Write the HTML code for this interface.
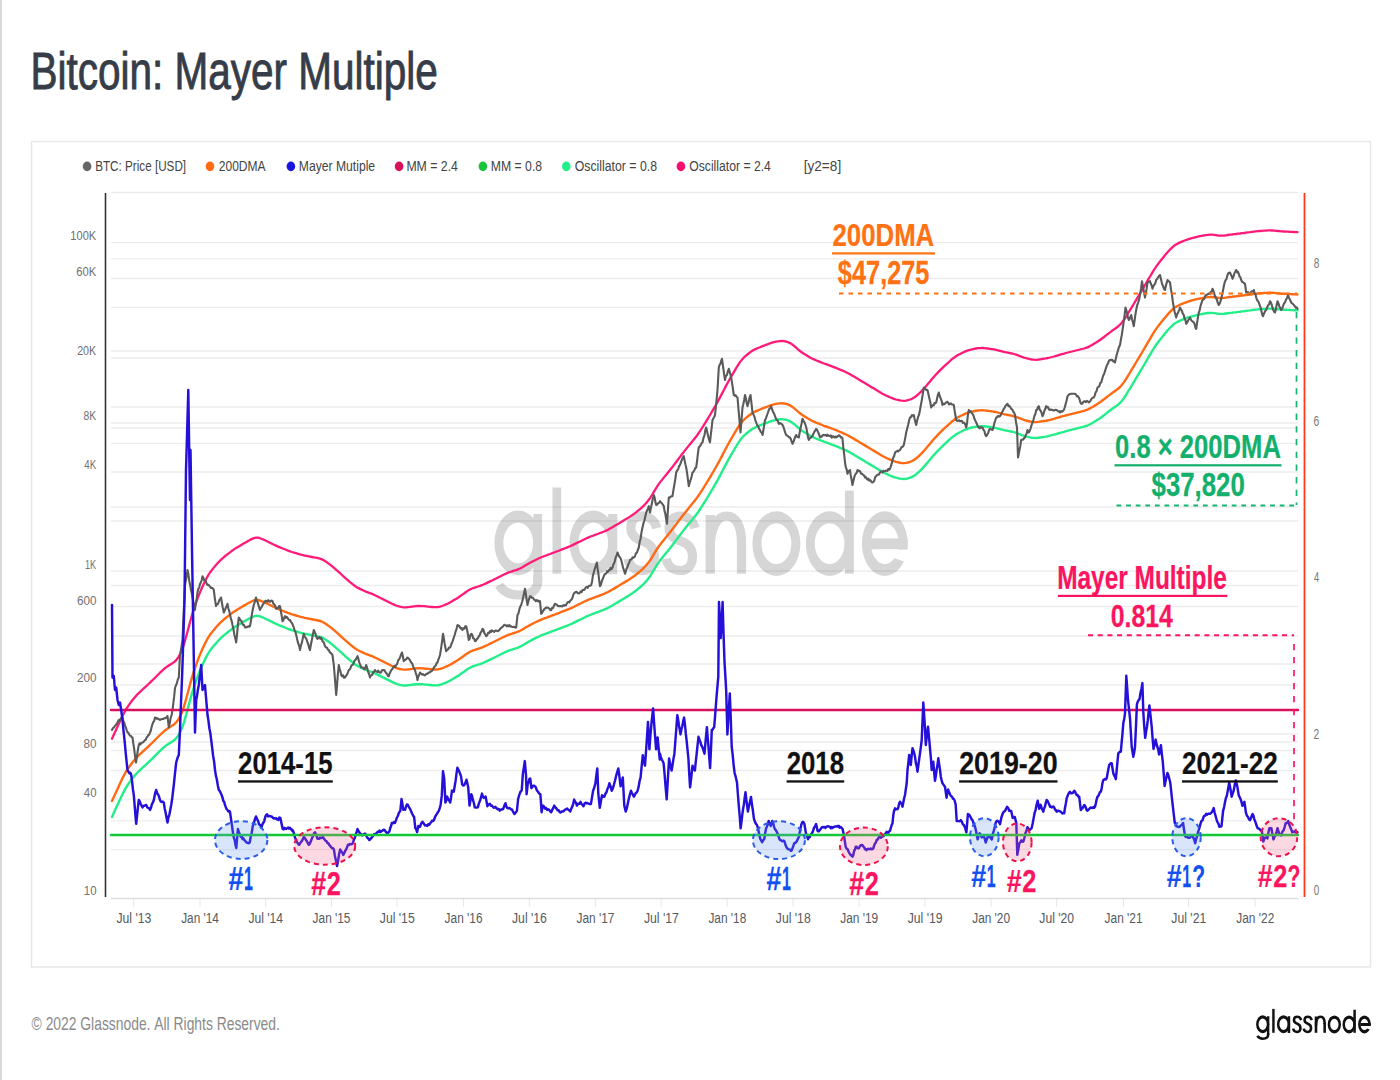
<!DOCTYPE html>
<html><head><meta charset="utf-8"><title>Bitcoin: Mayer Multiple</title>
<style>html,body{margin:0;padding:0;background:#ffffff;overflow:hidden;}svg{display:block;}</style>
</head><body>
<svg width="1400" height="1080" viewBox="0 0 1400 1080" font-family="'Liberation Sans', sans-serif">
<rect x="0" y="0" width="2" height="1080" fill="#d9d9d9"/>
<text transform="translate(30.48 88.80) scale(0.7827 1)" font-size="51.75" fill="#363c48" stroke="#363c48" stroke-width="0.9" style="font-kerning:none">Bitcoin: Mayer Multiple</text>
<rect x="31.5" y="141.5" width="1339" height="825.5" fill="none" stroke="#e8e8e8" stroke-width="1.5"/>
<ellipse cx="87.1" cy="166.4" rx="4.3" ry="4.8" fill="#666666"/>
<text transform="translate(95.14 171.20) scale(0.8129 1)" font-size="14.39" fill="#444444" style="font-kerning:none">BTC: Price [USD]</text>
<ellipse cx="210.0" cy="166.4" rx="4.3" ry="4.8" fill="#ff6a13"/>
<text transform="translate(218.79 171.20) scale(0.8364 1)" font-size="14.39" fill="#444444" style="font-kerning:none">200DMA</text>
<ellipse cx="290.9" cy="166.4" rx="4.3" ry="4.8" fill="#1a14e0"/>
<text transform="translate(298.80 171.20) scale(0.8448 1)" font-size="14.39" fill="#444444" style="font-kerning:none">Mayer Mutiple</text>
<ellipse cx="399.1" cy="166.4" rx="4.3" ry="4.8" fill="#d6125a"/>
<text transform="translate(406.39 171.20) scale(0.8541 1)" font-size="14.39" fill="#444444" style="font-kerning:none">MM = 2.4</text>
<ellipse cx="482.9" cy="166.4" rx="4.3" ry="4.8" fill="#19c43c"/>
<text transform="translate(490.80 171.20) scale(0.8503 1)" font-size="14.39" fill="#444444" style="font-kerning:none">MM = 0.8</text>
<ellipse cx="566.3" cy="166.4" rx="4.3" ry="4.8" fill="#22ee8a"/>
<text transform="translate(574.72 171.20) scale(0.8552 1)" font-size="14.39" fill="#444444" style="font-kerning:none">Oscillator = 0.8</text>
<ellipse cx="680.9" cy="166.4" rx="4.3" ry="4.8" fill="#f5106e"/>
<text transform="translate(689.22 171.20) scale(0.8471 1)" font-size="14.39" fill="#444444" style="font-kerning:none">Oscillator = 2.4</text>
<text transform="translate(803.73 171.20) scale(0.9454 1)" font-size="14.39" fill="#444444" style="font-kerning:none">[y2=8]</text>
<line x1="133.7" y1="898" x2="133.7" y2="907" stroke="#e6e6e6" stroke-width="1"/>
<text transform="translate(116.41 922.90) scale(0.8004 1)" font-size="15.26" fill="#555a60" style="font-kerning:none">Jul '13</text>
<line x1="200.0" y1="898" x2="200.0" y2="907" stroke="#e6e6e6" stroke-width="1"/>
<text transform="translate(181.22 922.90) scale(0.7742 1)" font-size="15.26" fill="#555a60" style="font-kerning:none">Jan '14</text>
<line x1="265.7" y1="898" x2="265.7" y2="907" stroke="#e6e6e6" stroke-width="1"/>
<text transform="translate(248.41 922.90) scale(0.7962 1)" font-size="15.26" fill="#555a60" style="font-kerning:none">Jul '14</text>
<line x1="331.4" y1="898" x2="331.4" y2="907" stroke="#e6e6e6" stroke-width="1"/>
<text transform="translate(312.61 922.90) scale(0.7773 1)" font-size="15.26" fill="#555a60" style="font-kerning:none">Jan '15</text>
<line x1="397.1" y1="898" x2="397.1" y2="907" stroke="#e6e6e6" stroke-width="1"/>
<text transform="translate(379.81 922.90) scale(0.7998 1)" font-size="15.26" fill="#555a60" style="font-kerning:none">Jul '15</text>
<line x1="463.4" y1="898" x2="463.4" y2="907" stroke="#e6e6e6" stroke-width="1"/>
<text transform="translate(444.61 922.90) scale(0.7778 1)" font-size="15.26" fill="#555a60" style="font-kerning:none">Jan '16</text>
<line x1="529.3" y1="898" x2="529.3" y2="907" stroke="#e6e6e6" stroke-width="1"/>
<text transform="translate(512.01 922.90) scale(0.8004 1)" font-size="15.26" fill="#555a60" style="font-kerning:none">Jul '16</text>
<line x1="595.3" y1="898" x2="595.3" y2="907" stroke="#e6e6e6" stroke-width="1"/>
<text transform="translate(576.51 922.90) scale(0.7794 1)" font-size="15.26" fill="#555a60" style="font-kerning:none">Jan '17</text>
<line x1="661.2" y1="898" x2="661.2" y2="907" stroke="#e6e6e6" stroke-width="1"/>
<text transform="translate(643.91 922.90) scale(0.8022 1)" font-size="15.26" fill="#555a60" style="font-kerning:none">Jul '17</text>
<line x1="727.2" y1="898" x2="727.2" y2="907" stroke="#e6e6e6" stroke-width="1"/>
<text transform="translate(708.41 922.90) scale(0.7777 1)" font-size="15.26" fill="#555a60" style="font-kerning:none">Jan '18</text>
<line x1="793.1" y1="898" x2="793.1" y2="907" stroke="#e6e6e6" stroke-width="1"/>
<text transform="translate(775.81 922.90) scale(0.8002 1)" font-size="15.26" fill="#555a60" style="font-kerning:none">Jul '18</text>
<line x1="859.1" y1="898" x2="859.1" y2="907" stroke="#e6e6e6" stroke-width="1"/>
<text transform="translate(840.31 922.90) scale(0.7786 1)" font-size="15.26" fill="#555a60" style="font-kerning:none">Jan '19</text>
<line x1="925.0" y1="898" x2="925.0" y2="907" stroke="#e6e6e6" stroke-width="1"/>
<text transform="translate(907.71 922.90) scale(0.8013 1)" font-size="15.26" fill="#555a60" style="font-kerning:none">Jul '19</text>
<line x1="991.0" y1="898" x2="991.0" y2="907" stroke="#e6e6e6" stroke-width="1"/>
<text transform="translate(972.21 922.90) scale(0.7766 1)" font-size="15.26" fill="#555a60" style="font-kerning:none">Jan '20</text>
<line x1="1056.6" y1="898" x2="1056.6" y2="907" stroke="#e6e6e6" stroke-width="1"/>
<text transform="translate(1039.31 922.90) scale(0.7990 1)" font-size="15.26" fill="#555a60" style="font-kerning:none">Jul '20</text>
<line x1="1123.4" y1="898" x2="1123.4" y2="907" stroke="#e6e6e6" stroke-width="1"/>
<text transform="translate(1104.61 922.90) scale(0.7790 1)" font-size="15.26" fill="#555a60" style="font-kerning:none">Jan '21</text>
<line x1="1188.6" y1="898" x2="1188.6" y2="907" stroke="#e6e6e6" stroke-width="1"/>
<text transform="translate(1171.31 922.90) scale(0.8018 1)" font-size="15.26" fill="#555a60" style="font-kerning:none">Jul '21</text>
<line x1="1255.1" y1="898" x2="1255.1" y2="907" stroke="#e6e6e6" stroke-width="1"/>
<text transform="translate(1236.31 922.90) scale(0.7794 1)" font-size="15.26" fill="#555a60" style="font-kerning:none">Jan '22</text>
<text transform="translate(70.36 239.70) scale(0.8283 1)" font-size="13.37" fill="#707070" style="font-kerning:none">100K</text>
<text transform="translate(76.23 275.80) scale(0.8404 1)" font-size="13.37" fill="#707070" style="font-kerning:none">60K</text>
<text transform="translate(77.16 355.30) scale(0.8010 1)" font-size="13.37" fill="#707070" style="font-kerning:none">20K</text>
<text transform="translate(83.55 419.80) scale(0.7744 1)" font-size="13.37" fill="#707070" style="font-kerning:none">8K</text>
<text transform="translate(84.28 469.20) scale(0.7218 1)" font-size="13.52" fill="#707070" style="font-kerning:none">4K</text>
<text transform="translate(85.00 568.50) scale(0.6923 1)" font-size="13.23" fill="#707070" style="font-kerning:none">1K</text>
<text transform="translate(77.00 605.00) scale(0.8764 1)" font-size="13.37" fill="#707070" style="font-kerning:none">600</text>
<text transform="translate(77.01 682.20) scale(0.8667 1)" font-size="13.52" fill="#707070" style="font-kerning:none">200</text>
<text transform="translate(83.59 747.70) scale(0.8621 1)" font-size="13.52" fill="#707070" style="font-kerning:none">80</text>
<text transform="translate(83.84 796.60) scale(0.8544 1)" font-size="13.37" fill="#707070" style="font-kerning:none">40</text>
<text transform="translate(83.83 895.40) scale(0.8550 1)" font-size="13.37" fill="#707070" style="font-kerning:none">10</text>
<text transform="translate(1313.66 268.30) scale(0.7032 1)" font-size="14.24" fill="#777777" style="font-kerning:none">8</text>
<text transform="translate(1313.58 425.90) scale(0.7151 1)" font-size="14.24" fill="#777777" style="font-kerning:none">6</text>
<text transform="translate(1313.89 582.40) scale(0.6548 1)" font-size="14.24" fill="#777777" style="font-kerning:none">4</text>
<text transform="translate(1313.58 739.40) scale(0.7243 1)" font-size="14.24" fill="#777777" style="font-kerning:none">2</text>
<text transform="translate(1313.72 894.90) scale(0.6902 1)" font-size="14.24" fill="#777777" style="font-kerning:none">0</text>
<defs><clipPath id="ecut"><path clip-rule="evenodd" d="M840 480H930V610H840ZM874 549.4H912V564.6L874 550.7Z"/></clipPath>
<g id="gn"><g fill="currentColor" stroke="none">
<path fill-rule="evenodd" d="M494.4 542.9a23.8 32.4 0 1 0 47.6 0a23.8 32.4 0 1 0 -47.6 0ZM503.3 542.9a14.9 20.4 0 1 0 29.8 0a14.9 20.4 0 1 0 -29.8 0ZM569.5 542.9a23.8 32.4 0 1 0 47.6 0a23.8 32.4 0 1 0 -47.6 0ZM578.4 542.9a14.9 20.4 0 1 0 29.8 0a14.9 20.4 0 1 0 -29.8 0ZM752.4 543.6a24.0 32.4 0 1 0 48.0 0a24.0 32.4 0 1 0 -48.0 0ZM761.4 543.6a15.0 20.4 0 1 0 30.0 0a15.0 20.4 0 1 0 -30.0 0ZM805.8 543.6a23.8 32.4 0 1 0 47.6 0a23.8 32.4 0 1 0 -47.6 0ZM814.7 543.6a14.9 20.4 0 1 0 29.8 0a14.9 20.4 0 1 0 -29.8 0Z"/>
<rect x="533.4" y="514" width="8.7" height="68"/><rect x="552.5" y="487.5" width="8.7" height="86.2"/><rect x="608.2" y="514" width="9.1" height="60.3"/>
<rect x="844.9" y="490.6" width="8.9" height="83.1"/><rect x="705.6" y="515" width="9.3" height="58.7"/><rect x="736.9" y="538" width="9.2" height="35.7"/>
<g clip-path="url(#ecut)"><path fill-rule="evenodd" d="M861.9 543.6a22.9 32.4 0 1 0 45.8 0a22.9 32.4 0 1 0 -45.8 0ZM870.9 543.6a13.9 20.4 0 1 0 27.8 0a13.9 20.4 0 1 0 -27.8 0Z"/><rect x="870" y="538.4" width="37.6" height="11"/></g>
</g>
<g fill="none" stroke="currentColor" stroke-width="9.2">
<path d="M537.75 575V581C537.75 591 530 595 519 595C510 595 503 592 499 585"/>
<path d="M710.25 548C710.25 528 717 516 726.5 516C736 516 741.5 526 741.5 542"/>
<path d="M656.8 528.2C654.8 520.2 648.8 516.0 642.3 516.0C635.3 516.0 630.8 520.7 630.8 527.7C630.8 536.2 636.8 539.2 642.8 541.2C649.8 543.7 654.3 547.7 654.3 556.7C654.3 565.7 648.8 570.5 642.3 570.5C634.8 570.5 629.3 566.2 628.0 558.7"/><path d="M695.0 528.2C693.0 520.2 687.0 516.0 680.5 516.0C673.5 516.0 669.0 520.7 669.0 527.7C669.0 536.2 675.0 539.2 681.0 541.2C688.0 543.7 692.5 547.7 692.5 556.7C692.5 565.7 687.0 570.5 680.5 570.5C673.0 570.5 667.5 566.2 666.2 558.7"/>
</g></g></defs>
<use href="#gn" style="color:#d6d6d6"/>
<line x1="111" y1="192.5" x2="1298" y2="192.5" stroke="rgba(0,0,0,0.075)" stroke-width="1.3"/>
<line x1="111" y1="242.6" x2="1298" y2="242.6" stroke="rgba(0,0,0,0.075)" stroke-width="1.3"/>
<line x1="111" y1="258.8" x2="1298" y2="258.8" stroke="rgba(0,0,0,0.075)" stroke-width="1.3"/>
<line x1="111" y1="278.5" x2="1298" y2="278.5" stroke="rgba(0,0,0,0.075)" stroke-width="1.3"/>
<line x1="111" y1="307.4" x2="1298" y2="307.4" stroke="rgba(0,0,0,0.075)" stroke-width="1.3"/>
<line x1="111" y1="351.0" x2="1298" y2="351.0" stroke="rgba(0,0,0,0.075)" stroke-width="1.3"/>
<line x1="111" y1="358.0" x2="1298" y2="358.0" stroke="rgba(0,0,0,0.075)" stroke-width="1.3"/>
<line x1="111" y1="407.0" x2="1298" y2="407.0" stroke="rgba(0,0,0,0.075)" stroke-width="1.3"/>
<line x1="111" y1="423.0" x2="1298" y2="423.0" stroke="rgba(0,0,0,0.075)" stroke-width="1.3"/>
<line x1="111" y1="428.0" x2="1298" y2="428.0" stroke="rgba(0,0,0,0.075)" stroke-width="1.3"/>
<line x1="111" y1="443.3" x2="1298" y2="443.3" stroke="rgba(0,0,0,0.075)" stroke-width="1.3"/>
<line x1="111" y1="472.0" x2="1298" y2="472.0" stroke="rgba(0,0,0,0.075)" stroke-width="1.3"/>
<line x1="111" y1="507.0" x2="1298" y2="507.0" stroke="rgba(0,0,0,0.075)" stroke-width="1.3"/>
<line x1="111" y1="521.0" x2="1298" y2="521.0" stroke="rgba(0,0,0,0.075)" stroke-width="1.3"/>
<line x1="111" y1="571.0" x2="1298" y2="571.0" stroke="rgba(0,0,0,0.075)" stroke-width="1.3"/>
<line x1="111" y1="585.5" x2="1298" y2="585.5" stroke="rgba(0,0,0,0.075)" stroke-width="1.3"/>
<line x1="111" y1="606.5" x2="1298" y2="606.5" stroke="rgba(0,0,0,0.075)" stroke-width="1.3"/>
<line x1="111" y1="636.0" x2="1298" y2="636.0" stroke="rgba(0,0,0,0.075)" stroke-width="1.3"/>
<line x1="111" y1="664.0" x2="1298" y2="664.0" stroke="rgba(0,0,0,0.075)" stroke-width="1.3"/>
<line x1="111" y1="685.0" x2="1298" y2="685.0" stroke="rgba(0,0,0,0.075)" stroke-width="1.3"/>
<line x1="111" y1="734.0" x2="1298" y2="734.0" stroke="rgba(0,0,0,0.075)" stroke-width="1.3"/>
<line x1="111" y1="742.0" x2="1298" y2="742.0" stroke="rgba(0,0,0,0.075)" stroke-width="1.3"/>
<line x1="111" y1="750.5" x2="1298" y2="750.5" stroke="rgba(0,0,0,0.075)" stroke-width="1.3"/>
<line x1="111" y1="770.5" x2="1298" y2="770.5" stroke="rgba(0,0,0,0.075)" stroke-width="1.3"/>
<line x1="111" y1="799.2" x2="1298" y2="799.2" stroke="rgba(0,0,0,0.075)" stroke-width="1.3"/>
<line x1="111" y1="820.8" x2="1298" y2="820.8" stroke="rgba(0,0,0,0.075)" stroke-width="1.3"/>
<line x1="111" y1="849.6" x2="1298" y2="849.6" stroke="rgba(0,0,0,0.075)" stroke-width="1.3"/>
<line x1="105.5" y1="193" x2="105.5" y2="897" stroke="#333333" stroke-width="1.6"/>
<line x1="111" y1="898.5" x2="1298.5" y2="898.5" stroke="#dddddd" stroke-width="1.5"/>
<line x1="1304.5" y1="193" x2="1304.5" y2="897" stroke="#ff3b1a" stroke-width="1.8"/>
<g fill="none" stroke-linejoin="round" stroke-linecap="round">
<path d="M112.0 738.7L114.0 734.3L116.0 729.9L118.0 725.6L120.0 721.2L122.0 717.0L124.0 713.0L126.0 709.4L128.0 706.3L130.0 703.4L132.0 700.7L134.0 698.2L136.0 695.9L138.0 693.8L140.0 691.9L142.0 690.0L144.0 688.2L146.0 686.4L148.0 684.5L150.0 682.6L152.0 680.7L154.0 678.7L156.0 676.7L158.0 674.7L160.0 672.7L162.0 670.8L164.0 669.0L166.0 667.4L168.0 666.0L170.0 664.7L172.0 663.5L174.0 662.1L176.0 660.3L178.0 657.8L180.0 654.4L182.0 649.9L184.0 644.1L186.0 637.2L188.0 629.7L190.0 622.2L192.0 615.1L194.0 608.7L196.0 602.8L198.0 597.4L200.0 592.3L202.0 587.7L204.0 583.3L206.0 579.2L208.0 575.6L210.0 572.5L212.0 569.9L214.0 567.4L216.0 565.0L218.0 562.8L220.0 560.7L222.0 558.8L224.0 557.0L226.0 555.4L228.0 553.8L230.0 552.3L232.0 550.8L234.0 549.4L236.0 548.1L238.0 546.9L240.0 545.7L242.0 544.5L244.0 543.3L246.0 542.2L248.0 541.0L250.0 539.9L252.0 538.9L254.0 538.1L256.0 537.6L258.0 537.7L260.0 538.2L262.0 539.0L264.0 539.8L266.0 540.8L268.0 541.7L270.0 542.7L272.0 543.7L274.0 544.7L276.0 545.6L278.0 546.6L280.0 547.4L282.0 548.2L284.0 549.0L286.0 549.8L288.0 550.6L290.0 551.3L292.0 552.0L294.0 552.6L296.0 553.2L298.0 553.8L300.0 554.4L302.0 554.9L304.0 555.4L306.0 555.8L308.0 556.2L310.0 556.6L312.0 557.0L314.0 557.4L316.0 557.7L318.0 558.2L320.0 558.7L322.0 559.4L324.0 560.4L326.0 561.7L328.0 563.1L330.0 564.6L332.0 566.2L334.0 567.9L336.0 569.6L338.0 571.4L340.0 573.2L342.0 575.0L344.0 576.8L346.0 578.6L348.0 580.3L350.0 582.1L352.0 583.7L354.0 585.3L356.0 586.7L358.0 587.9L360.0 588.9L362.0 589.9L364.0 590.8L366.0 591.7L368.0 592.4L370.0 593.2L372.0 593.9L374.0 594.8L376.0 595.7L378.0 596.7L380.0 597.7L382.0 598.7L384.0 599.7L386.0 600.7L388.0 601.7L390.0 602.7L392.0 603.7L394.0 604.6L396.0 605.5L398.0 606.2L400.0 606.7L402.0 607.1L404.0 607.3L406.0 607.3L408.0 607.1L410.0 606.9L412.0 606.6L414.0 606.3L416.0 606.1L418.0 606.0L420.0 606.0L422.0 606.1L424.0 606.2L426.0 606.4L428.0 606.6L430.0 606.8L432.0 607.0L434.0 607.2L436.0 607.2L438.0 607.0L440.0 606.6L442.0 606.0L444.0 605.2L446.0 604.4L448.0 603.5L450.0 602.4L452.0 601.3L454.0 600.1L456.0 598.9L458.0 597.7L460.0 596.3L462.0 594.9L464.0 593.5L466.0 592.0L468.0 590.6L470.0 589.5L472.0 588.5L474.0 587.8L476.0 587.2L478.0 586.5L480.0 585.9L482.0 585.2L484.0 584.3L486.0 583.4L488.0 582.4L490.0 581.4L492.0 580.5L494.0 579.5L496.0 578.5L498.0 577.5L500.0 576.5L502.0 575.5L504.0 574.5L506.0 573.6L508.0 572.7L510.0 572.0L512.0 571.4L514.0 570.7L516.0 570.1L518.0 569.4L520.0 568.5L522.0 567.5L524.0 566.3L526.0 565.0L528.0 563.9L530.0 562.8L532.0 561.7L534.0 560.7L536.0 559.7L538.0 558.8L540.0 557.8L542.0 557.0L544.0 556.2L546.0 555.5L548.0 554.7L550.0 554.0L552.0 553.2L554.0 552.5L556.0 551.7L558.0 551.0L560.0 550.2L562.0 549.4L564.0 548.7L566.0 547.9L568.0 547.1L570.0 546.3L572.0 545.4L574.0 544.4L576.0 543.4L578.0 542.4L580.0 541.5L582.0 540.5L584.0 539.5L586.0 538.5L588.0 537.6L590.0 536.8L592.0 536.0L594.0 535.3L596.0 534.5L598.0 533.8L600.0 533.0L602.0 532.3L604.0 531.5L606.0 530.6L608.0 529.7L610.0 528.6L612.0 527.5L614.0 526.3L616.0 525.1L618.0 523.9L620.0 522.7L622.0 521.5L624.0 520.3L626.0 519.1L628.0 517.9L630.0 516.6L632.0 515.3L634.0 513.9L636.0 512.3L638.0 510.7L640.0 509.1L642.0 507.3L644.0 505.4L646.0 503.2L648.0 500.8L650.0 498.1L652.0 495.0L654.0 491.6L656.0 488.3L658.0 485.2L660.0 482.4L662.0 479.9L664.0 477.4L666.0 475.0L668.0 472.5L670.0 470.0L672.0 467.5L674.0 464.9L676.0 462.2L678.0 459.5L680.0 456.9L682.0 454.2L684.0 451.6L686.0 449.1L688.0 446.6L690.0 444.2L692.0 441.8L694.0 439.3L696.0 436.8L698.0 434.0L700.0 431.1L702.0 428.0L704.0 424.8L706.0 421.6L708.0 418.3L710.0 415.0L712.0 411.6L714.0 408.2L716.0 404.7L718.0 401.1L720.0 397.4L722.0 393.6L724.0 389.7L726.0 385.9L728.0 382.2L730.0 378.6L732.0 375.2L734.0 371.8L736.0 368.4L738.0 365.2L740.0 362.1L742.0 359.6L744.0 357.4L746.0 355.6L748.0 354.0L750.0 352.4L752.0 351.0L754.0 349.8L756.0 348.9L758.0 348.0L760.0 347.2L762.0 346.4L764.0 345.6L766.0 344.8L768.0 344.1L770.0 343.3L772.0 342.6L774.0 342.1L776.0 341.6L778.0 341.3L780.0 341.1L782.0 341.0L784.0 341.2L786.0 341.5L788.0 342.2L790.0 343.1L792.0 344.3L794.0 345.8L796.0 347.5L798.0 349.3L800.0 351.0L802.0 352.5L804.0 353.8L806.0 355.0L808.0 356.2L810.0 357.4L812.0 358.5L814.0 359.4L816.0 360.3L818.0 361.1L820.0 361.9L822.0 362.7L824.0 363.5L826.0 364.2L828.0 364.9L830.0 365.6L832.0 366.4L834.0 367.1L836.0 367.9L838.0 368.7L840.0 369.6L842.0 370.4L844.0 371.3L846.0 372.2L848.0 373.2L850.0 374.3L852.0 375.4L854.0 376.6L856.0 377.8L858.0 379.0L860.0 380.2L862.0 381.4L864.0 382.6L866.0 383.8L868.0 385.0L870.0 386.2L872.0 387.4L874.0 388.6L876.0 389.8L878.0 391.0L880.0 392.2L882.0 393.4L884.0 394.5L886.0 395.5L888.0 396.4L890.0 397.3L892.0 398.1L894.0 398.9L896.0 399.5L898.0 400.0L900.0 400.4L902.0 400.7L904.0 400.8L906.0 400.6L908.0 400.2L910.0 399.5L912.0 398.7L914.0 397.6L916.0 396.2L918.0 394.5L920.0 392.7L922.0 390.6L924.0 388.5L926.0 386.2L928.0 383.8L930.0 381.4L932.0 379.0L934.0 376.7L936.0 374.5L938.0 372.4L940.0 370.4L942.0 368.4L944.0 366.4L946.0 364.6L948.0 362.8L950.0 361.0L952.0 359.2L954.0 357.7L956.0 356.3L958.0 355.0L960.0 354.0L962.0 353.0L964.0 352.0L966.0 351.1L968.0 350.4L970.0 349.8L972.0 349.3L974.0 348.9L976.0 348.5L978.0 348.2L980.0 348.1L982.0 348.0L984.0 348.1L986.0 348.3L988.0 348.5L990.0 348.8L992.0 349.1L994.0 349.4L996.0 349.9L998.0 350.4L1000.0 350.9L1002.0 351.4L1004.0 351.9L1006.0 352.3L1008.0 352.7L1010.0 353.1L1012.0 353.5L1014.0 354.0L1016.0 354.6L1018.0 355.3L1020.0 356.1L1022.0 356.9L1024.0 357.6L1026.0 358.2L1028.0 358.7L1030.0 359.2L1032.0 359.5L1034.0 359.7L1036.0 359.8L1038.0 359.6L1040.0 359.3L1042.0 359.0L1044.0 358.7L1046.0 358.4L1048.0 358.0L1050.0 357.5L1052.0 357.0L1054.0 356.5L1056.0 355.9L1058.0 355.3L1060.0 354.7L1062.0 354.1L1064.0 353.6L1066.0 353.0L1068.0 352.5L1070.0 352.0L1072.0 351.5L1074.0 351.0L1076.0 350.5L1078.0 350.0L1080.0 349.5L1082.0 349.0L1084.0 348.5L1086.0 347.8L1088.0 347.1L1090.0 346.1L1092.0 345.0L1094.0 343.8L1096.0 342.6L1098.0 341.3L1100.0 340.0L1102.0 338.5L1104.0 337.0L1106.0 335.4L1108.0 333.8L1110.0 332.3L1112.0 330.8L1114.0 329.4L1116.0 328.0L1118.0 326.5L1120.0 324.7L1122.0 322.5L1124.0 319.8L1126.0 316.8L1128.0 313.5L1130.0 310.2L1132.0 306.9L1134.0 303.5L1136.0 300.2L1138.0 296.9L1140.0 293.5L1142.0 290.2L1144.0 286.8L1146.0 283.4L1148.0 279.9L1150.0 276.5L1152.0 273.1L1154.0 269.8L1156.0 266.8L1158.0 264.1L1160.0 261.5L1162.0 259.0L1164.0 256.5L1166.0 254.1L1168.0 251.8L1170.0 249.6L1172.0 247.6L1174.0 245.8L1176.0 244.5L1178.0 243.4L1180.0 242.4L1182.0 241.6L1184.0 240.8L1186.0 240.0L1188.0 239.3L1190.0 238.7L1192.0 238.1L1194.0 237.6L1196.0 237.1L1198.0 236.6L1200.0 236.2L1202.0 235.8L1204.0 235.4L1206.0 235.1L1208.0 234.8L1210.0 234.7L1212.0 234.7L1214.0 234.9L1216.0 235.2L1218.0 235.5L1220.0 235.7L1222.0 235.7L1224.0 235.6L1226.0 235.3L1228.0 235.0L1230.0 234.7L1232.0 234.5L1234.0 234.2L1236.0 234.0L1238.0 233.7L1240.0 233.5L1242.0 233.2L1244.0 233.0L1246.0 232.7L1248.0 232.4L1250.0 232.2L1252.0 231.9L1254.0 231.6L1256.0 231.4L1258.0 231.2L1260.0 231.0L1262.0 230.9L1264.0 230.7L1266.0 230.6L1268.0 230.4L1270.0 230.4L1272.0 230.5L1274.0 230.6L1276.0 230.8L1278.0 231.0L1280.0 231.2L1282.0 231.4L1284.0 231.5L1286.0 231.6L1288.0 231.7L1290.0 231.8L1292.0 231.9L1294.0 232.0L1296.0 232.1L1297.5 232.2" stroke="#ff1a7a" stroke-width="2.3"/>
<path d="M112.0 816.9L114.0 812.5L116.0 808.1L118.0 803.8L120.0 799.4L122.0 795.2L124.0 791.2L126.0 787.6L128.0 784.5L130.0 781.6L132.0 778.9L134.0 776.4L136.0 774.1L138.0 772.0L140.0 770.1L142.0 768.2L144.0 766.4L146.0 764.6L148.0 762.7L150.0 760.8L152.0 758.9L154.0 756.9L156.0 754.9L158.0 752.9L160.0 750.9L162.0 749.0L164.0 747.2L166.0 745.6L168.0 744.2L170.0 742.9L172.0 741.7L174.0 740.3L176.0 738.5L178.0 736.0L180.0 732.6L182.0 728.1L184.0 722.3L186.0 715.4L188.0 707.9L190.0 700.4L192.0 693.3L194.0 686.9L196.0 681.0L198.0 675.6L200.0 670.5L202.0 665.9L204.0 661.5L206.0 657.4L208.0 653.8L210.0 650.7L212.0 648.1L214.0 645.6L216.0 643.2L218.0 641.0L220.0 638.9L222.0 637.0L224.0 635.2L226.0 633.6L228.0 632.0L230.0 630.5L232.0 629.0L234.0 627.6L236.0 626.3L238.0 625.1L240.0 623.9L242.0 622.7L244.0 621.5L246.0 620.4L248.0 619.2L250.0 618.1L252.0 617.1L254.0 616.3L256.0 615.8L258.0 615.9L260.0 616.4L262.0 617.2L264.0 618.0L266.0 619.0L268.0 619.9L270.0 620.9L272.0 621.9L274.0 622.9L276.0 623.8L278.0 624.8L280.0 625.6L282.0 626.4L284.0 627.2L286.0 628.0L288.0 628.8L290.0 629.5L292.0 630.2L294.0 630.8L296.0 631.4L298.0 632.0L300.0 632.6L302.0 633.1L304.0 633.6L306.0 634.0L308.0 634.4L310.0 634.8L312.0 635.2L314.0 635.6L316.0 635.9L318.0 636.4L320.0 636.9L322.0 637.6L324.0 638.6L326.0 639.9L328.0 641.3L330.0 642.8L332.0 644.4L334.0 646.1L336.0 647.8L338.0 649.6L340.0 651.4L342.0 653.2L344.0 655.0L346.0 656.8L348.0 658.5L350.0 660.3L352.0 661.9L354.0 663.5L356.0 664.9L358.0 666.1L360.0 667.1L362.0 668.1L364.0 669.0L366.0 669.9L368.0 670.6L370.0 671.4L372.0 672.1L374.0 673.0L376.0 673.9L378.0 674.9L380.0 675.9L382.0 676.9L384.0 677.9L386.0 678.9L388.0 679.9L390.0 680.9L392.0 681.9L394.0 682.8L396.0 683.7L398.0 684.4L400.0 684.9L402.0 685.3L404.0 685.5L406.0 685.5L408.0 685.3L410.0 685.1L412.0 684.8L414.0 684.5L416.0 684.3L418.0 684.2L420.0 684.2L422.0 684.3L424.0 684.4L426.0 684.6L428.0 684.8L430.0 685.0L432.0 685.2L434.0 685.4L436.0 685.4L438.0 685.2L440.0 684.8L442.0 684.2L444.0 683.4L446.0 682.6L448.0 681.7L450.0 680.6L452.0 679.5L454.0 678.3L456.0 677.1L458.0 675.9L460.0 674.5L462.0 673.1L464.0 671.7L466.0 670.2L468.0 668.8L470.0 667.7L472.0 666.7L474.0 666.0L476.0 665.4L478.0 664.7L480.0 664.1L482.0 663.4L484.0 662.5L486.0 661.6L488.0 660.6L490.0 659.6L492.0 658.7L494.0 657.7L496.0 656.7L498.0 655.7L500.0 654.7L502.0 653.7L504.0 652.7L506.0 651.8L508.0 650.9L510.0 650.2L512.0 649.6L514.0 648.9L516.0 648.3L518.0 647.6L520.0 646.7L522.0 645.7L524.0 644.5L526.0 643.2L528.0 642.1L530.0 641.0L532.0 639.9L534.0 638.9L536.0 637.9L538.0 637.0L540.0 636.0L542.0 635.2L544.0 634.4L546.0 633.7L548.0 632.9L550.0 632.2L552.0 631.4L554.0 630.7L556.0 629.9L558.0 629.2L560.0 628.4L562.0 627.6L564.0 626.9L566.0 626.1L568.0 625.3L570.0 624.5L572.0 623.6L574.0 622.6L576.0 621.6L578.0 620.6L580.0 619.7L582.0 618.7L584.0 617.7L586.0 616.7L588.0 615.8L590.0 615.0L592.0 614.2L594.0 613.5L596.0 612.7L598.0 612.0L600.0 611.2L602.0 610.5L604.0 609.7L606.0 608.8L608.0 607.9L610.0 606.8L612.0 605.7L614.0 604.5L616.0 603.3L618.0 602.1L620.0 600.9L622.0 599.7L624.0 598.5L626.0 597.3L628.0 596.1L630.0 594.8L632.0 593.5L634.0 592.1L636.0 590.5L638.0 588.9L640.0 587.3L642.0 585.5L644.0 583.6L646.0 581.4L648.0 579.0L650.0 576.3L652.0 573.2L654.0 569.8L656.0 566.5L658.0 563.4L660.0 560.6L662.0 558.1L664.0 555.6L666.0 553.2L668.0 550.7L670.0 548.2L672.0 545.7L674.0 543.1L676.0 540.4L678.0 537.7L680.0 535.1L682.0 532.4L684.0 529.8L686.0 527.3L688.0 524.8L690.0 522.4L692.0 520.0L694.0 517.5L696.0 515.0L698.0 512.2L700.0 509.3L702.0 506.2L704.0 503.0L706.0 499.8L708.0 496.5L710.0 493.2L712.0 489.8L714.0 486.4L716.0 482.9L718.0 479.3L720.0 475.6L722.0 471.8L724.0 467.9L726.0 464.1L728.0 460.4L730.0 456.8L732.0 453.4L734.0 450.0L736.0 446.6L738.0 443.4L740.0 440.3L742.0 437.8L744.0 435.6L746.0 433.8L748.0 432.2L750.0 430.6L752.0 429.2L754.0 428.0L756.0 427.1L758.0 426.2L760.0 425.4L762.0 424.6L764.0 423.8L766.0 423.0L768.0 422.3L770.0 421.5L772.0 420.8L774.0 420.3L776.0 419.8L778.0 419.5L780.0 419.3L782.0 419.2L784.0 419.4L786.0 419.7L788.0 420.4L790.0 421.3L792.0 422.5L794.0 424.0L796.0 425.7L798.0 427.5L800.0 429.2L802.0 430.7L804.0 432.0L806.0 433.2L808.0 434.4L810.0 435.6L812.0 436.7L814.0 437.6L816.0 438.5L818.0 439.3L820.0 440.1L822.0 440.9L824.0 441.7L826.0 442.4L828.0 443.1L830.0 443.8L832.0 444.6L834.0 445.3L836.0 446.1L838.0 446.9L840.0 447.8L842.0 448.6L844.0 449.5L846.0 450.4L848.0 451.4L850.0 452.5L852.0 453.6L854.0 454.8L856.0 456.0L858.0 457.2L860.0 458.4L862.0 459.6L864.0 460.8L866.0 462.0L868.0 463.2L870.0 464.4L872.0 465.6L874.0 466.8L876.0 468.0L878.0 469.2L880.0 470.4L882.0 471.6L884.0 472.7L886.0 473.7L888.0 474.6L890.0 475.5L892.0 476.3L894.0 477.1L896.0 477.7L898.0 478.2L900.0 478.6L902.0 478.9L904.0 479.0L906.0 478.8L908.0 478.4L910.0 477.7L912.0 476.9L914.0 475.8L916.0 474.4L918.0 472.7L920.0 470.9L922.0 468.8L924.0 466.7L926.0 464.4L928.0 462.0L930.0 459.6L932.0 457.2L934.0 454.9L936.0 452.7L938.0 450.6L940.0 448.6L942.0 446.6L944.0 444.6L946.0 442.8L948.0 441.0L950.0 439.2L952.0 437.4L954.0 435.9L956.0 434.5L958.0 433.2L960.0 432.2L962.0 431.2L964.0 430.2L966.0 429.3L968.0 428.6L970.0 428.0L972.0 427.5L974.0 427.1L976.0 426.7L978.0 426.4L980.0 426.3L982.0 426.2L984.0 426.3L986.0 426.5L988.0 426.7L990.0 427.0L992.0 427.3L994.0 427.6L996.0 428.1L998.0 428.6L1000.0 429.1L1002.0 429.6L1004.0 430.1L1006.0 430.5L1008.0 430.9L1010.0 431.3L1012.0 431.7L1014.0 432.2L1016.0 432.8L1018.0 433.5L1020.0 434.3L1022.0 435.1L1024.0 435.8L1026.0 436.4L1028.0 436.9L1030.0 437.4L1032.0 437.7L1034.0 437.9L1036.0 438.0L1038.0 437.8L1040.0 437.5L1042.0 437.2L1044.0 436.9L1046.0 436.6L1048.0 436.2L1050.0 435.7L1052.0 435.2L1054.0 434.7L1056.0 434.1L1058.0 433.5L1060.0 432.9L1062.0 432.3L1064.0 431.8L1066.0 431.2L1068.0 430.7L1070.0 430.2L1072.0 429.7L1074.0 429.2L1076.0 428.7L1078.0 428.2L1080.0 427.7L1082.0 427.2L1084.0 426.7L1086.0 426.0L1088.0 425.3L1090.0 424.3L1092.0 423.2L1094.0 422.0L1096.0 420.8L1098.0 419.5L1100.0 418.2L1102.0 416.7L1104.0 415.2L1106.0 413.6L1108.0 412.0L1110.0 410.5L1112.0 409.0L1114.0 407.6L1116.0 406.2L1118.0 404.7L1120.0 402.9L1122.0 400.7L1124.0 398.0L1126.0 395.0L1128.0 391.7L1130.0 388.4L1132.0 385.1L1134.0 381.7L1136.0 378.4L1138.0 375.1L1140.0 371.7L1142.0 368.4L1144.0 365.0L1146.0 361.6L1148.0 358.1L1150.0 354.7L1152.0 351.3L1154.0 348.0L1156.0 345.0L1158.0 342.3L1160.0 339.7L1162.0 337.2L1164.0 334.7L1166.0 332.3L1168.0 330.0L1170.0 327.8L1172.0 325.8L1174.0 324.0L1176.0 322.7L1178.0 321.6L1180.0 320.6L1182.0 319.8L1184.0 319.0L1186.0 318.2L1188.0 317.5L1190.0 316.9L1192.0 316.3L1194.0 315.8L1196.0 315.3L1198.0 314.8L1200.0 314.4L1202.0 314.0L1204.0 313.6L1206.0 313.3L1208.0 313.0L1210.0 312.9L1212.0 312.9L1214.0 313.1L1216.0 313.4L1218.0 313.7L1220.0 313.9L1222.0 313.9L1224.0 313.8L1226.0 313.5L1228.0 313.2L1230.0 312.9L1232.0 312.7L1234.0 312.4L1236.0 312.2L1238.0 311.9L1240.0 311.7L1242.0 311.4L1244.0 311.2L1246.0 310.9L1248.0 310.6L1250.0 310.4L1252.0 310.1L1254.0 309.8L1256.0 309.6L1258.0 309.4L1260.0 309.2L1262.0 309.1L1264.0 308.9L1266.0 308.8L1268.0 308.6L1270.0 308.6L1272.0 308.7L1274.0 308.8L1276.0 309.0L1278.0 309.2L1280.0 309.4L1282.0 309.6L1284.0 309.7L1286.0 309.8L1288.0 309.9L1290.0 310.0L1292.0 310.1L1294.0 310.2L1296.0 310.3L1297.5 310.4" stroke="#22ee8a" stroke-width="2.4"/>
<path d="M112.0 801.0L114.0 796.6L116.0 792.2L118.0 787.9L120.0 783.5L122.0 779.3L124.0 775.3L126.0 771.7L128.0 768.6L130.0 765.7L132.0 763.0L134.0 760.5L136.0 758.2L138.0 756.1L140.0 754.2L142.0 752.3L144.0 750.5L146.0 748.7L148.0 746.8L150.0 744.9L152.0 743.0L154.0 741.0L156.0 739.0L158.0 737.0L160.0 735.0L162.0 733.1L164.0 731.3L166.0 729.7L168.0 728.3L170.0 727.0L172.0 725.8L174.0 724.4L176.0 722.6L178.0 720.1L180.0 716.7L182.0 712.2L184.0 706.4L186.0 699.5L188.0 692.0L190.0 684.5L192.0 677.4L194.0 671.0L196.0 665.1L198.0 659.7L200.0 654.6L202.0 650.0L204.0 645.6L206.0 641.5L208.0 637.9L210.0 634.8L212.0 632.2L214.0 629.7L216.0 627.3L218.0 625.1L220.0 623.0L222.0 621.1L224.0 619.3L226.0 617.7L228.0 616.1L230.0 614.6L232.0 613.1L234.0 611.7L236.0 610.4L238.0 609.2L240.0 608.0L242.0 606.8L244.0 605.6L246.0 604.5L248.0 603.3L250.0 602.2L252.0 601.2L254.0 600.4L256.0 599.9L258.0 600.0L260.0 600.5L262.0 601.3L264.0 602.1L266.0 603.1L268.0 604.0L270.0 605.0L272.0 606.0L274.0 607.0L276.0 607.9L278.0 608.9L280.0 609.7L282.0 610.5L284.0 611.3L286.0 612.1L288.0 612.9L290.0 613.6L292.0 614.3L294.0 614.9L296.0 615.5L298.0 616.1L300.0 616.7L302.0 617.2L304.0 617.7L306.0 618.1L308.0 618.5L310.0 618.9L312.0 619.3L314.0 619.7L316.0 620.0L318.0 620.5L320.0 621.0L322.0 621.7L324.0 622.7L326.0 624.0L328.0 625.4L330.0 626.9L332.0 628.5L334.0 630.2L336.0 631.9L338.0 633.7L340.0 635.5L342.0 637.3L344.0 639.1L346.0 640.9L348.0 642.6L350.0 644.4L352.0 646.0L354.0 647.6L356.0 649.0L358.0 650.2L360.0 651.2L362.0 652.2L364.0 653.1L366.0 654.0L368.0 654.7L370.0 655.5L372.0 656.2L374.0 657.1L376.0 658.0L378.0 659.0L380.0 660.0L382.0 661.0L384.0 662.0L386.0 663.0L388.0 664.0L390.0 665.0L392.0 666.0L394.0 666.9L396.0 667.8L398.0 668.5L400.0 669.0L402.0 669.4L404.0 669.6L406.0 669.6L408.0 669.4L410.0 669.2L412.0 668.9L414.0 668.6L416.0 668.4L418.0 668.3L420.0 668.3L422.0 668.4L424.0 668.5L426.0 668.7L428.0 668.9L430.0 669.1L432.0 669.3L434.0 669.5L436.0 669.5L438.0 669.3L440.0 668.9L442.0 668.3L444.0 667.5L446.0 666.7L448.0 665.8L450.0 664.7L452.0 663.6L454.0 662.4L456.0 661.2L458.0 660.0L460.0 658.6L462.0 657.2L464.0 655.8L466.0 654.3L468.0 652.9L470.0 651.8L472.0 650.8L474.0 650.1L476.0 649.5L478.0 648.8L480.0 648.2L482.0 647.5L484.0 646.6L486.0 645.7L488.0 644.7L490.0 643.7L492.0 642.8L494.0 641.8L496.0 640.8L498.0 639.8L500.0 638.8L502.0 637.8L504.0 636.8L506.0 635.9L508.0 635.0L510.0 634.3L512.0 633.7L514.0 633.0L516.0 632.4L518.0 631.7L520.0 630.8L522.0 629.8L524.0 628.6L526.0 627.3L528.0 626.2L530.0 625.1L532.0 624.0L534.0 623.0L536.0 622.0L538.0 621.1L540.0 620.1L542.0 619.3L544.0 618.5L546.0 617.8L548.0 617.0L550.0 616.3L552.0 615.5L554.0 614.8L556.0 614.0L558.0 613.3L560.0 612.5L562.0 611.7L564.0 611.0L566.0 610.2L568.0 609.4L570.0 608.6L572.0 607.7L574.0 606.7L576.0 605.7L578.0 604.7L580.0 603.8L582.0 602.8L584.0 601.8L586.0 600.8L588.0 599.9L590.0 599.1L592.0 598.3L594.0 597.6L596.0 596.8L598.0 596.1L600.0 595.3L602.0 594.6L604.0 593.8L606.0 592.9L608.0 592.0L610.0 590.9L612.0 589.8L614.0 588.6L616.0 587.4L618.0 586.2L620.0 585.0L622.0 583.8L624.0 582.6L626.0 581.4L628.0 580.2L630.0 578.9L632.0 577.6L634.0 576.2L636.0 574.6L638.0 573.0L640.0 571.4L642.0 569.6L644.0 567.7L646.0 565.5L648.0 563.1L650.0 560.4L652.0 557.3L654.0 553.9L656.0 550.6L658.0 547.5L660.0 544.7L662.0 542.2L664.0 539.7L666.0 537.3L668.0 534.8L670.0 532.3L672.0 529.8L674.0 527.2L676.0 524.5L678.0 521.8L680.0 519.2L682.0 516.5L684.0 513.9L686.0 511.4L688.0 508.9L690.0 506.5L692.0 504.1L694.0 501.6L696.0 499.1L698.0 496.3L700.0 493.4L702.0 490.3L704.0 487.1L706.0 483.9L708.0 480.6L710.0 477.3L712.0 473.9L714.0 470.5L716.0 467.0L718.0 463.4L720.0 459.7L722.0 455.9L724.0 452.0L726.0 448.2L728.0 444.5L730.0 440.9L732.0 437.5L734.0 434.1L736.0 430.7L738.0 427.5L740.0 424.4L742.0 421.9L744.0 419.7L746.0 417.9L748.0 416.3L750.0 414.7L752.0 413.3L754.0 412.1L756.0 411.2L758.0 410.3L760.0 409.5L762.0 408.7L764.0 407.9L766.0 407.1L768.0 406.4L770.0 405.6L772.0 404.9L774.0 404.4L776.0 403.9L778.0 403.6L780.0 403.4L782.0 403.3L784.0 403.5L786.0 403.8L788.0 404.5L790.0 405.4L792.0 406.6L794.0 408.1L796.0 409.8L798.0 411.6L800.0 413.3L802.0 414.8L804.0 416.1L806.0 417.3L808.0 418.5L810.0 419.7L812.0 420.8L814.0 421.7L816.0 422.6L818.0 423.4L820.0 424.2L822.0 425.0L824.0 425.8L826.0 426.5L828.0 427.2L830.0 427.9L832.0 428.7L834.0 429.4L836.0 430.2L838.0 431.0L840.0 431.9L842.0 432.7L844.0 433.6L846.0 434.5L848.0 435.5L850.0 436.6L852.0 437.7L854.0 438.9L856.0 440.1L858.0 441.3L860.0 442.5L862.0 443.7L864.0 444.9L866.0 446.1L868.0 447.3L870.0 448.5L872.0 449.7L874.0 450.9L876.0 452.1L878.0 453.3L880.0 454.5L882.0 455.7L884.0 456.8L886.0 457.8L888.0 458.7L890.0 459.6L892.0 460.4L894.0 461.2L896.0 461.8L898.0 462.3L900.0 462.7L902.0 463.0L904.0 463.1L906.0 462.9L908.0 462.5L910.0 461.8L912.0 461.0L914.0 459.9L916.0 458.5L918.0 456.8L920.0 455.0L922.0 452.9L924.0 450.8L926.0 448.5L928.0 446.1L930.0 443.7L932.0 441.3L934.0 439.0L936.0 436.8L938.0 434.7L940.0 432.7L942.0 430.7L944.0 428.7L946.0 426.9L948.0 425.1L950.0 423.3L952.0 421.5L954.0 420.0L956.0 418.6L958.0 417.3L960.0 416.3L962.0 415.3L964.0 414.3L966.0 413.4L968.0 412.7L970.0 412.1L972.0 411.6L974.0 411.2L976.0 410.8L978.0 410.5L980.0 410.4L982.0 410.3L984.0 410.4L986.0 410.6L988.0 410.8L990.0 411.1L992.0 411.4L994.0 411.7L996.0 412.2L998.0 412.7L1000.0 413.2L1002.0 413.7L1004.0 414.2L1006.0 414.6L1008.0 415.0L1010.0 415.4L1012.0 415.8L1014.0 416.3L1016.0 416.9L1018.0 417.6L1020.0 418.4L1022.0 419.2L1024.0 419.9L1026.0 420.5L1028.0 421.0L1030.0 421.5L1032.0 421.8L1034.0 422.0L1036.0 422.1L1038.0 421.9L1040.0 421.6L1042.0 421.3L1044.0 421.0L1046.0 420.7L1048.0 420.3L1050.0 419.8L1052.0 419.3L1054.0 418.8L1056.0 418.2L1058.0 417.6L1060.0 417.0L1062.0 416.4L1064.0 415.9L1066.0 415.3L1068.0 414.8L1070.0 414.3L1072.0 413.8L1074.0 413.3L1076.0 412.8L1078.0 412.3L1080.0 411.8L1082.0 411.3L1084.0 410.8L1086.0 410.1L1088.0 409.4L1090.0 408.4L1092.0 407.3L1094.0 406.1L1096.0 404.9L1098.0 403.6L1100.0 402.3L1102.0 400.8L1104.0 399.3L1106.0 397.7L1108.0 396.1L1110.0 394.6L1112.0 393.1L1114.0 391.7L1116.0 390.3L1118.0 388.8L1120.0 387.0L1122.0 384.8L1124.0 382.1L1126.0 379.1L1128.0 375.8L1130.0 372.5L1132.0 369.2L1134.0 365.8L1136.0 362.5L1138.0 359.2L1140.0 355.8L1142.0 352.5L1144.0 349.1L1146.0 345.7L1148.0 342.2L1150.0 338.8L1152.0 335.4L1154.0 332.1L1156.0 329.1L1158.0 326.4L1160.0 323.8L1162.0 321.3L1164.0 318.8L1166.0 316.4L1168.0 314.1L1170.0 311.9L1172.0 309.9L1174.0 308.1L1176.0 306.8L1178.0 305.7L1180.0 304.7L1182.0 303.9L1184.0 303.1L1186.0 302.3L1188.0 301.6L1190.0 301.0L1192.0 300.4L1194.0 299.9L1196.0 299.4L1198.0 298.9L1200.0 298.5L1202.0 298.1L1204.0 297.7L1206.0 297.4L1208.0 297.1L1210.0 297.0L1212.0 297.0L1214.0 297.2L1216.0 297.5L1218.0 297.8L1220.0 298.0L1222.0 298.0L1224.0 297.9L1226.0 297.6L1228.0 297.3L1230.0 297.0L1232.0 296.8L1234.0 296.5L1236.0 296.3L1238.0 296.0L1240.0 295.8L1242.0 295.5L1244.0 295.3L1246.0 295.0L1248.0 294.7L1250.0 294.5L1252.0 294.2L1254.0 293.9L1256.0 293.7L1258.0 293.5L1260.0 293.3L1262.0 293.2L1264.0 293.0L1266.0 292.9L1268.0 292.7L1270.0 292.7L1272.0 292.8L1274.0 292.9L1276.0 293.1L1278.0 293.3L1280.0 293.5L1282.0 293.7L1284.0 293.8L1286.0 293.9L1288.0 294.0L1290.0 294.1L1292.0 294.2L1294.0 294.3L1296.0 294.4L1297.5 294.5" stroke="#ff6a13" stroke-width="2.4"/>
<path d="M112.0 730.0L112.9 728.2L113.8 727.6L114.8 726.0L115.7 725.2L116.6 724.0L117.5 722.5L118.3 720.7L119.2 719.8L120.0 720.7L120.8 718.6L121.7 717.7L122.5 717.5L123.3 721.1L124.2 722.4L125.0 725.7L125.8 727.4L126.7 730.3L127.5 732.5L128.3 732.6L129.2 734.5L130.0 735.8L130.8 735.9L131.7 737.2L132.5 737.5L133.4 744.1L134.2 749.0L135.1 756.8L136.0 762.5L136.9 756.9L137.8 750.4L138.8 745.0L139.6 743.3L140.5 744.4L141.4 742.8L142.3 742.6L143.2 742.3L144.1 741.2L145.0 740.0L145.8 739.7L146.7 737.3L147.5 736.9L148.3 734.9L149.2 734.7L150.0 732.5L150.8 730.8L151.7 726.6L152.5 724.2L153.3 721.9L154.2 721.0L155.0 717.5L155.8 717.8L156.7 718.6L157.5 718.3L158.3 719.2L159.2 719.3L160.0 720.0L160.8 719.2L161.7 719.3L162.5 718.9L163.3 719.1L164.2 718.2L165.0 718.3L165.8 717.7L166.7 717.5L167.5 716.0L168.8 727.5L169.7 723.5L170.6 718.0L171.6 715.2L172.5 710.0L173.3 703.7L174.2 696.2L175.0 688.0L175.9 685.5L176.9 683.2L177.8 679.5L178.8 677.5L180.0 655.0L180.8 650.7L181.7 645.2L182.5 640.0L183.3 621.2L184.2 602.4L185.0 585.0L185.8 580.8L186.7 576.1L187.5 570.0L188.4 574.1L189.2 580.7L190.1 584.8L191.0 590.0L191.8 593.2L192.6 597.5L193.4 602.6L194.2 606.8L195.0 610.0L195.8 603.2L196.7 598.6L197.5 592.5L198.3 588.8L199.2 587.6L200.0 584.0L200.8 582.5L201.7 580.0L202.5 576.2L203.3 577.7L204.2 580.3L205.0 580.2L205.8 581.2L206.7 583.8L207.5 585.0L208.4 584.7L209.3 585.8L210.2 586.9L211.1 588.1L212.0 587.8L212.9 588.3L213.8 590.0L214.9 598.8L216.0 606.0L216.8 604.2L217.7 604.2L218.5 602.6L219.3 600.1L220.2 598.8L221.0 597.5L221.9 602.5L222.8 607.8L223.8 612.5L224.7 610.5L225.6 608.3L226.6 606.2L227.5 603.8L228.3 608.3L229.2 610.8L230.0 614.2L230.8 618.4L231.7 620.9L232.5 625.0L233.4 628.9L234.4 634.8L235.3 638.2L236.2 642.5L237.1 634.3L237.9 624.8L238.8 617.5L239.6 618.7L240.5 620.5L241.4 620.7L242.3 623.5L243.2 624.9L244.1 625.1L245.0 627.5L245.8 627.5L246.7 626.9L247.5 627.1L248.3 626.2L249.2 626.7L250.0 626.0L250.9 621.3L251.9 614.4L252.8 609.3L253.8 605.0L254.9 601.6L256.0 597.5L256.8 601.0L257.6 602.0L258.4 604.9L259.2 607.7L260.0 610.0L260.8 608.1L261.7 606.8L262.5 605.2L263.3 603.9L264.2 602.9L265.0 601.2L265.8 600.8L266.7 601.0L267.5 601.8L268.3 600.2L269.2 601.4L270.0 601.8L270.8 600.8L271.7 600.6L272.5 601.2L273.4 603.8L274.4 604.4L275.3 606.2L276.2 608.8L277.2 608.0L278.1 607.9L279.1 606.0L280.0 606.2L280.8 610.9L281.7 615.9L282.5 621.2L283.3 620.3L284.2 617.8L285.0 616.2L285.8 617.7L286.7 616.8L287.5 617.8L288.3 619.1L289.2 620.2L290.0 620.0L290.9 621.8L291.9 623.1L292.8 624.8L293.8 627.5L294.6 630.1L295.4 631.8L296.2 635.0L297.2 639.4L298.1 643.2L299.1 645.6L300.0 650.0L300.9 645.5L301.9 642.6L302.8 638.1L303.8 633.8L304.7 636.6L305.6 637.8L306.6 639.5L307.5 642.5L308.3 644.5L309.2 648.1L310.0 650.0L310.9 644.5L311.9 639.7L312.8 634.8L313.8 630.0L314.7 632.0L315.6 634.2L316.6 637.5L317.5 638.8L318.4 637.7L319.4 637.0L320.3 638.8L321.2 637.5L322.1 640.0L322.9 641.9L323.8 642.4L324.6 645.2L325.4 646.8L326.2 647.5L327.1 647.7L327.9 649.7L328.8 650.0L329.7 652.0L330.6 652.9L331.6 653.8L332.5 655.0L333.8 665.0L334.6 674.5L335.4 684.7L336.2 695.0L337.1 684.4L337.9 674.0L338.8 665.0L339.6 668.5L340.4 671.2L341.2 675.0L342.2 676.3L343.1 675.2L344.1 677.8L345.0 677.5L345.9 676.1L346.9 674.7L347.8 672.7L348.8 670.0L349.7 669.6L350.6 667.7L351.6 665.2L352.5 665.0L353.3 664.1L354.2 661.4L355.0 660.2L355.8 659.5L356.7 657.8L357.5 656.2L358.4 658.9L359.4 662.8L360.3 664.9L361.2 667.5L362.2 667.5L363.1 667.6L364.1 669.2L365.0 668.8L366.2 665.0L367.2 668.1L368.1 671.9L369.1 674.0L370.0 677.5L370.8 675.6L371.7 675.1L372.5 674.4L373.3 671.8L374.2 671.9L375.0 670.0L375.8 671.3L376.7 671.5L377.5 672.0L378.3 670.6L379.2 672.4L380.0 672.5L380.9 672.7L381.9 670.3L382.8 670.1L383.8 670.0L384.6 670.5L385.4 672.1L386.2 673.0L387.1 674.1L387.9 675.8L388.8 676.2L389.7 673.3L390.6 671.5L391.6 669.8L392.5 668.8L393.4 667.0L394.4 665.9L395.3 667.0L396.2 665.0L397.2 663.9L398.1 660.3L399.1 659.4L400.0 657.5L401.0 654.6L402.0 652.5L402.9 656.5L403.8 661.2L404.7 660.0L405.6 659.7L406.6 658.6L407.5 657.5L408.4 658.4L409.4 659.3L410.3 660.9L411.2 662.5L412.2 663.5L413.1 666.4L414.1 668.6L415.0 670.0L415.8 673.1L416.7 675.7L417.5 680.0L418.3 676.8L419.2 674.7L420.0 672.5L420.9 673.4L421.9 674.4L422.8 674.1L423.8 675.0L424.7 675.4L425.6 674.6L426.6 673.9L427.5 673.8L428.3 672.8L429.2 672.5L430.0 672.3L430.8 671.1L431.7 671.1L432.5 670.0L433.3 668.7L434.2 666.9L435.0 666.3L435.8 665.4L436.7 662.8L437.5 662.5L438.3 659.8L439.2 657.3L440.0 655.0L441.0 648.8L442.0 641.8L443.0 633.8L443.8 637.8L444.6 643.4L445.4 647.5L446.2 651.2L447.2 649.8L448.1 649.3L449.1 647.6L450.0 647.5L450.9 645.7L451.9 642.9L452.8 640.9L453.8 637.5L454.7 635.0L455.6 631.6L456.6 628.6L457.5 625.0L458.3 626.0L459.2 625.8L460.0 627.5L460.8 628.5L461.7 628.1L462.5 630.0L463.4 628.3L464.4 628.7L465.3 626.2L466.2 626.2L467.1 629.9L467.9 634.5L468.8 640.0L469.6 638.8L470.4 635.1L471.2 633.8L472.2 634.6L473.1 638.3L474.1 638.5L475.0 641.2L475.9 640.8L476.9 639.1L477.8 638.2L478.8 636.2L479.7 635.4L480.6 632.7L481.6 631.3L482.5 628.8L483.4 629.6L484.4 633.1L485.3 634.4L486.2 636.2L487.2 635.5L488.1 632.9L489.1 633.0L490.0 631.2L490.8 632.2L491.7 630.3L492.5 630.9L493.3 631.4L494.2 632.0L495.0 630.7L495.8 630.5L496.7 630.7L497.5 631.2L498.3 630.8L499.2 630.4L500.0 628.9L500.8 628.2L501.7 627.6L502.5 626.8L503.3 626.2L504.2 624.8L505.0 625.0L505.9 625.2L506.8 626.4L507.7 625.3L508.6 626.3L509.5 625.1L510.4 626.5L511.2 626.2L512.1 627.0L512.9 627.0L513.8 626.9L514.6 627.0L515.4 627.6L516.2 627.5L517.5 615.0L518.4 613.4L519.4 609.2L520.3 606.6L521.2 605.0L522.2 601.5L523.1 597.8L524.1 592.9L525.0 588.8L525.8 594.0L526.7 600.1L527.5 605.0L528.3 601.4L529.2 598.7L530.0 596.2L530.8 596.2L531.7 597.7L532.5 597.7L533.3 598.2L534.2 599.8L535.0 600.0L535.8 601.2L536.7 600.0L537.5 601.1L538.3 600.6L539.2 601.8L540.0 601.2L541.2 613.8L542.1 612.9L542.9 611.2L543.8 610.0L544.6 608.5L545.4 608.5L546.2 607.5L547.1 607.7L547.9 607.6L548.8 608.4L549.6 608.8L550.4 610.2L551.2 610.0L552.2 607.7L553.1 608.0L554.1 605.3L555.0 603.8L555.8 604.4L556.7 604.5L557.5 605.7L558.3 606.1L559.2 606.0L560.0 606.2L560.8 606.0L561.7 606.3L562.5 606.4L563.3 605.2L564.2 605.7L565.0 605.0L565.8 605.4L566.7 603.7L567.5 602.5L568.3 601.9L569.2 602.4L570.0 601.2L570.8 600.2L571.7 599.3L572.5 597.7L573.3 594.8L574.2 593.3L575.0 592.5L575.8 592.0L576.7 591.8L577.5 593.0L578.3 593.3L579.2 593.4L580.0 592.5L580.8 591.3L581.7 592.1L582.5 590.2L583.3 589.8L584.2 589.9L585.0 588.8L585.9 587.3L586.8 586.8L587.7 587.9L588.6 586.1L589.5 585.8L590.4 585.7L591.2 585.0L592.1 581.2L592.9 575.6L593.8 572.5L594.8 568.8L595.8 565.7L596.8 562.5L597.6 568.4L598.4 573.7L599.2 580.5L600.0 586.2L600.9 584.8L601.9 581.0L602.8 578.8L603.8 576.2L604.6 574.4L605.4 573.7L606.2 573.5L607.1 571.2L607.9 571.9L608.8 570.0L609.7 570.3L610.6 567.9L611.6 569.1L612.5 567.5L613.3 564.7L614.2 563.1L615.0 560.6L615.8 557.1L616.7 555.4L617.5 552.5L618.4 554.7L619.4 556.9L620.3 557.6L621.2 560.0L622.2 564.0L623.1 567.9L624.1 570.7L625.0 573.8L625.8 571.5L626.7 568.3L627.5 566.9L628.3 564.3L629.2 562.8L630.0 560.0L630.8 559.8L631.7 558.9L632.5 557.4L633.3 557.8L634.2 557.2L635.0 556.2L635.9 553.4L636.9 552.7L637.8 550.0L638.8 547.5L639.7 541.7L640.6 538.5L641.6 531.7L642.5 527.5L643.4 523.4L644.4 520.5L645.3 516.5L646.2 512.5L647.1 510.5L647.9 508.7L648.8 506.2L650.0 512.5L650.9 508.0L651.9 503.3L652.8 498.7L653.8 495.0L654.6 497.4L655.4 502.1L656.2 505.0L657.2 504.6L658.1 503.2L659.1 502.7L660.0 501.2L660.9 502.2L661.9 503.2L662.8 504.7L663.8 506.2L664.6 511.4L665.4 514.0L666.2 519.4L667.0 523.8L667.9 510.1L668.8 497.5L669.7 497.8L670.6 496.6L671.6 496.2L672.5 496.2L673.4 490.1L674.4 484.5L675.3 479.0L676.2 472.5L677.2 470.3L678.1 469.5L679.1 466.0L680.0 465.0L680.9 462.3L681.9 459.7L682.8 457.6L683.8 456.2L684.6 460.6L685.4 464.3L686.2 467.5L687.1 473.1L687.9 479.3L688.8 486.2L689.7 482.6L690.6 479.9L691.6 476.6L692.5 472.5L693.4 471.8L694.4 470.2L695.3 468.0L696.2 467.5L697.1 460.6L697.9 453.5L698.8 447.5L699.7 446.3L700.6 445.2L701.6 443.1L702.5 442.5L703.4 438.2L704.4 435.6L705.3 430.2L706.2 427.5L707.2 431.9L708.1 435.9L709.1 439.7L710.0 442.5L710.8 434.7L711.7 427.6L712.5 420.0L713.3 418.5L714.2 417.0L715.0 415.0L715.8 407.7L716.7 398.7L717.5 390.0L718.8 367.5L719.6 364.9L720.4 363.9L721.2 360.9L722.0 358.8L723.0 366.1L724.0 373.4L725.0 380.0L725.9 376.1L726.9 375.0L727.8 371.9L728.8 368.8L729.6 371.6L730.4 374.6L731.2 377.5L732.1 383.2L732.9 388.5L733.8 395.0L734.7 395.7L735.6 395.2L736.6 396.9L737.5 397.5L738.5 409.5L739.5 420.7L740.5 432.5L741.5 420.1L742.5 407.5L743.3 404.3L744.2 400.0L745.0 395.0L745.8 397.9L746.7 403.1L747.5 406.2L748.5 402.8L749.5 397.8L750.5 395.0L751.5 403.4L752.5 412.5L753.4 414.4L754.4 416.6L755.3 420.1L756.2 422.5L757.2 425.3L758.1 425.9L759.1 428.9L760.0 430.0L760.8 432.1L761.7 432.5L762.5 435.0L763.3 430.8L764.2 425.2L765.0 420.0L765.9 418.4L766.9 415.5L767.8 413.0L768.8 410.0L769.6 408.4L770.4 408.2L771.2 406.2L772.2 409.7L773.1 412.0L774.1 413.6L775.0 416.2L775.9 418.7L776.9 420.0L777.8 421.0L778.8 423.8L779.7 423.1L780.6 423.4L781.6 424.0L782.5 425.0L783.4 426.8L784.4 430.0L785.3 432.9L786.2 435.0L787.2 435.7L788.1 436.1L789.1 437.2L790.0 437.5L790.8 439.2L791.7 441.6L792.5 443.8L793.4 442.1L794.4 439.2L795.3 436.5L796.2 435.0L797.1 436.7L797.9 437.1L798.8 437.5L799.7 432.5L800.6 427.8L801.6 423.5L802.5 418.8L803.5 421.0L804.5 422.3L805.5 425.0L806.3 427.7L807.1 431.9L807.9 436.9L808.8 440.0L809.7 438.3L810.6 438.0L811.6 436.5L812.5 436.2L813.4 433.7L814.4 431.8L815.3 430.4L816.2 428.8L817.2 430.2L818.1 432.1L819.1 434.5L820.0 437.5L820.8 436.4L821.7 436.6L822.5 435.3L823.3 434.8L824.2 435.3L825.0 435.0L825.8 435.0L826.7 435.9L827.5 434.6L828.3 435.6L829.2 435.8L830.0 436.2L830.8 435.4L831.7 437.7L832.5 436.3L833.3 436.2L834.2 437.2L835.0 437.5L835.8 436.5L836.7 437.3L837.5 436.4L838.3 435.7L839.2 435.3L840.0 436.0L840.8 437.4L841.7 437.3L842.5 438.8L843.3 447.3L844.2 454.5L845.0 462.5L845.8 467.2L846.7 469.6L847.5 473.8L848.3 471.9L849.2 470.7L850.0 470.0L850.8 475.7L851.7 480.3L852.5 485.0L853.3 481.3L854.2 477.4L855.0 475.0L855.8 473.7L856.7 472.7L857.5 470.0L858.4 471.1L859.4 470.8L860.3 471.8L861.2 473.8L862.2 473.8L863.1 474.9L864.1 475.5L865.0 477.5L865.8 476.9L866.7 478.7L867.5 479.6L868.3 478.5L869.2 480.6L870.0 480.0L870.8 480.8L871.7 482.3L872.5 482.5L873.4 481.9L874.4 480.3L875.3 476.8L876.2 476.2L877.2 474.9L878.1 474.6L879.1 474.4L880.0 472.5L880.8 471.4L881.7 471.6L882.5 472.6L883.3 470.8L884.2 471.2L885.0 471.2L885.8 470.5L886.7 470.8L887.5 470.9L888.3 468.9L889.2 469.7L890.0 468.8L890.8 466.3L891.7 463.7L892.5 460.0L893.3 457.6L894.2 455.9L895.0 452.5L895.8 451.8L896.7 451.5L897.5 450.7L898.3 451.4L899.2 450.4L900.0 450.0L900.9 448.2L901.9 446.8L902.8 446.7L903.8 445.0L904.6 441.1L905.4 437.1L906.2 432.5L907.2 428.5L908.1 425.0L909.1 420.5L910.0 417.5L910.9 417.3L911.9 415.2L912.8 415.6L913.8 415.0L914.6 418.9L915.4 422.1L916.2 425.0L917.2 420.4L918.1 416.9L919.1 414.5L920.0 410.0L920.9 404.7L921.9 399.6L922.8 393.9L923.8 387.5L924.7 388.0L925.6 389.6L926.6 389.9L927.5 390.0L928.4 394.0L929.4 398.5L930.3 402.2L931.2 407.5L932.1 406.0L933.0 405.0L933.8 405.4L934.6 402.9L935.4 403.3L936.2 402.5L937.1 398.3L937.9 394.9L938.8 392.5L939.7 396.0L940.6 398.2L941.6 400.9L942.5 405.0L943.4 403.6L944.4 404.1L945.3 403.3L946.2 402.5L947.2 401.7L948.1 402.5L949.1 404.5L950.0 403.8L950.9 403.4L951.9 404.5L952.8 404.5L953.8 405.0L954.6 410.6L955.4 415.2L956.2 420.0L957.2 420.9L958.1 420.7L959.1 420.3L960.0 421.2L960.9 420.9L961.9 420.9L962.8 422.9L963.8 422.5L964.6 423.3L965.4 424.8L966.2 427.5L967.1 422.7L967.9 415.2L968.8 410.0L969.7 411.8L970.6 411.0L971.6 412.7L972.5 413.8L973.4 415.3L974.4 418.8L975.3 420.6L976.2 422.5L977.1 424.5L977.9 426.4L978.8 427.5L979.7 428.3L980.6 427.2L981.6 427.7L982.5 427.5L983.4 429.6L984.4 431.0L985.3 434.8L986.2 436.2L987.2 434.6L988.1 433.2L989.1 430.0L990.0 428.8L990.8 429.3L991.7 429.5L992.5 430.0L993.4 427.4L994.4 422.8L995.3 420.3L996.2 417.5L997.2 417.2L998.1 415.9L999.1 416.7L1000.0 416.2L1000.9 414.9L1001.9 412.3L1002.8 411.0L1003.8 408.8L1004.7 407.7L1005.6 405.6L1006.6 404.7L1007.5 403.8L1008.4 406.1L1009.4 405.9L1010.3 407.3L1011.2 408.8L1012.2 409.4L1013.1 411.3L1014.1 412.7L1015.0 415.0L1016.0 422.2L1017.0 427.5L1018.0 457.5L1018.8 453.6L1019.6 449.6L1020.4 445.4L1021.2 440.0L1022.2 439.6L1023.1 439.7L1024.1 438.2L1025.0 437.5L1025.8 434.8L1026.7 433.5L1027.5 430.0L1028.8 432.5L1029.7 430.9L1030.6 428.5L1031.6 425.0L1032.5 422.5L1033.4 420.0L1034.4 416.0L1035.3 414.2L1036.2 410.0L1037.1 409.7L1037.9 407.0L1038.8 406.2L1039.7 409.7L1040.6 410.6L1041.6 412.9L1042.5 416.2L1043.4 414.2L1044.4 410.8L1045.3 408.8L1046.2 406.2L1047.2 407.5L1048.1 407.1L1049.1 409.6L1050.0 410.0L1050.8 409.5L1051.7 409.9L1052.5 409.7L1053.3 410.5L1054.2 410.5L1055.0 410.0L1055.8 409.9L1056.7 410.0L1057.5 410.8L1058.3 411.5L1059.2 411.2L1060.0 412.5L1060.9 411.1L1061.9 411.8L1062.8 411.1L1063.8 410.0L1064.7 407.6L1065.6 404.2L1066.6 400.5L1067.5 396.2L1068.4 395.3L1069.4 394.3L1070.3 394.0L1071.2 393.8L1072.2 393.7L1073.1 393.8L1074.1 393.8L1075.0 393.8L1075.9 394.4L1076.9 396.4L1077.8 396.1L1078.8 397.5L1079.6 399.5L1080.4 402.5L1081.2 403.8L1082.2 403.8L1083.1 402.1L1084.1 401.3L1085.0 401.2L1085.9 402.2L1086.9 400.8L1087.8 401.4L1088.8 402.5L1089.6 401.7L1090.4 400.9L1091.2 399.3L1092.1 398.2L1092.9 397.7L1093.8 397.5L1094.7 395.6L1095.6 392.4L1096.6 391.1L1097.5 387.5L1098.4 386.9L1099.4 386.1L1100.3 382.7L1101.2 382.5L1102.2 379.0L1103.1 375.8L1104.1 373.9L1105.0 371.2L1105.9 368.4L1106.9 365.3L1107.8 363.9L1108.8 361.2L1109.7 360.0L1110.6 360.2L1111.6 359.8L1112.5 360.0L1113.3 361.5L1114.2 361.5L1115.0 362.5L1115.9 358.2L1116.9 354.0L1117.8 351.1L1118.8 347.5L1120.0 345.0L1120.8 340.3L1121.7 335.4L1122.5 330.0L1123.5 323.4L1124.5 315.7L1125.5 307.5L1126.3 310.1L1127.1 312.9L1127.9 317.4L1128.8 320.0L1129.6 319.0L1130.4 316.7L1131.2 315.0L1132.1 319.5L1132.9 322.6L1133.8 326.2L1134.6 320.3L1135.4 314.7L1136.2 310.0L1137.2 305.2L1138.1 302.8L1139.1 299.6L1140.0 295.0L1141.0 289.0L1142.0 281.2L1143.0 286.6L1144.0 292.4L1145.0 297.5L1145.8 293.4L1146.7 288.2L1147.5 282.5L1148.3 282.3L1149.2 281.5L1150.0 281.2L1150.8 283.8L1151.7 285.5L1152.5 288.8L1153.4 285.9L1154.4 284.8L1155.3 283.3L1156.2 280.0L1157.2 278.9L1158.1 277.3L1159.1 275.9L1160.0 275.0L1160.8 278.2L1161.7 282.3L1162.5 285.0L1163.3 286.6L1164.2 289.3L1165.0 290.0L1165.8 285.9L1166.7 282.9L1167.5 280.0L1168.3 280.9L1169.2 281.5L1170.0 282.5L1171.0 289.5L1172.0 295.0L1172.9 302.0L1173.8 307.5L1174.6 311.8L1175.4 314.4L1176.2 317.5L1177.2 314.0L1178.1 312.7L1179.1 310.1L1180.0 307.5L1180.9 309.3L1181.9 310.8L1182.8 313.6L1183.8 315.0L1184.6 318.8L1185.4 320.0L1186.2 323.8L1187.2 322.6L1188.1 320.3L1189.1 319.1L1190.0 317.5L1190.9 319.6L1191.9 321.0L1192.8 321.6L1193.8 322.5L1194.6 323.9L1195.4 327.6L1196.2 328.8L1197.1 322.6L1197.9 317.7L1198.8 312.5L1199.7 310.1L1200.6 305.8L1201.6 302.6L1202.5 300.0L1203.4 299.7L1204.4 298.5L1205.3 295.8L1206.2 295.0L1207.2 294.5L1208.1 294.0L1209.1 293.4L1210.0 294.0L1210.8 291.7L1211.7 291.6L1212.5 288.8L1213.3 290.3L1214.2 293.2L1215.0 296.2L1215.9 297.8L1216.9 299.7L1217.8 302.9L1218.8 305.0L1219.6 303.5L1220.4 301.6L1221.2 298.8L1222.1 294.9L1222.9 291.1L1223.8 286.2L1224.7 282.3L1225.6 280.1L1226.6 278.8L1227.5 275.0L1228.3 273.2L1229.2 272.8L1230.0 272.5L1230.8 274.5L1231.7 276.2L1232.5 278.8L1233.4 276.7L1234.4 273.4L1235.3 271.6L1236.2 270.0L1237.1 272.3L1237.9 271.7L1238.8 273.8L1239.6 276.7L1240.4 277.2L1241.2 280.0L1242.2 282.0L1243.1 282.3L1244.1 283.1L1245.0 283.8L1246.2 292.5L1247.2 292.0L1248.1 292.1L1249.1 294.0L1250.0 293.8L1250.9 292.1L1251.9 291.2L1252.8 291.6L1253.8 290.0L1254.6 293.3L1255.4 294.0L1256.2 297.5L1257.1 300.2L1257.9 300.9L1258.8 302.5L1259.6 305.0L1260.5 307.1L1261.3 310.5L1262.2 314.6L1263.0 316.2L1263.8 314.2L1264.6 312.3L1265.4 310.8L1266.2 310.0L1267.2 307.0L1268.1 305.3L1269.1 304.4L1270.0 301.2L1270.8 302.4L1271.7 304.7L1272.5 307.5L1273.3 310.1L1274.2 311.9L1275.0 312.5L1275.8 309.8L1276.7 304.4L1277.5 301.2L1278.4 303.1L1279.4 306.6L1280.3 307.8L1281.2 310.0L1282.2 308.6L1283.1 305.8L1284.1 303.3L1285.0 302.5L1286.0 299.7L1287.0 298.0L1288.0 295.0L1288.8 297.5L1289.6 298.9L1290.4 300.5L1291.2 302.5L1292.2 303.5L1293.1 304.2L1294.1 305.4L1295.0 306.2L1295.8 307.8L1296.7 307.3L1297.5 308.8" stroke="#5a5a5a" stroke-width="2.1"/>
<line x1="111" y1="710" x2="1298" y2="710" stroke="#d9105e" stroke-width="2.4"/>
<path d="M112.0 605.0L112.5 677.5L113.8 676.0L115.0 690.0L116.2 687.5L117.5 700.0L118.8 705.0L120.0 702.5L121.2 710.0L122.5 720.0L123.3 728.6L124.2 737.2L125.0 745.0L125.8 753.9L126.7 762.6L127.5 770.0L128.4 771.7L129.4 773.3L130.3 772.8L131.2 775.0L132.1 781.6L132.9 789.2L133.8 795.0L134.6 804.9L135.4 815.0L136.2 823.8L137.1 815.1L137.9 807.9L138.8 800.0L139.7 801.4L140.6 803.8L141.6 805.8L142.5 807.5L143.4 805.9L144.4 805.7L145.3 805.2L146.2 805.0L147.2 807.1L148.1 808.0L149.1 808.1L150.0 810.0L150.9 808.1L151.9 804.3L152.8 802.7L153.8 800.0L154.6 795.9L155.4 792.3L156.2 790.0L157.2 793.2L158.1 794.4L159.1 796.9L160.0 800.0L160.9 801.6L161.9 802.0L162.8 801.5L163.8 802.5L164.7 808.4L165.6 812.6L166.6 817.9L167.5 822.5L168.4 817.5L169.4 814.6L170.3 809.8L171.2 805.0L172.1 799.3L172.9 792.5L173.8 785.0L174.6 777.1L175.4 769.7L176.2 762.5L177.1 759.3L177.9 756.8L178.8 755.0L180.0 730.0L180.8 707.5L181.7 686.3L182.5 665.0L183.5 632.7L184.5 600.0L186.0 470.0L187.2 429.0L188.3 390.0L189.5 470.0L190.0 500.0L190.5 450.0L192.0 550.0L193.5 640.0L195.0 732.5L196.2 700.0L197.1 695.4L197.9 689.7L198.8 685.0L199.6 678.0L200.4 672.3L201.2 665.0L202.5 690.0L203.3 688.3L204.2 686.3L205.0 685.0L205.8 695.0L206.7 705.4L207.5 715.0L208.4 720.4L209.4 728.5L210.3 732.8L211.2 740.0L212.2 748.0L213.1 755.7L214.1 761.5L215.0 770.0L215.9 775.6L216.9 779.7L217.8 785.2L218.8 790.0L219.7 790.9L220.6 792.8L221.6 795.0L222.5 797.5L223.3 800.9L224.2 801.9L225.0 805.0L225.8 807.2L226.7 809.2L227.5 810.0L228.3 811.5L229.2 810.9L230.0 811.8L231.0 818.8L232.1 826.5L233.1 833.8L233.9 837.9L234.7 840.1L235.5 844.9L236.3 848.0L237.9 829.0L239.1 832.8L240.2 835.4L241.0 837.0L241.8 836.3L242.6 839.1L243.4 838.3L244.2 840.0L245.3 840.9L246.5 842.5L247.6 842.7L248.6 843.3L249.7 842.5L250.7 836.7L251.8 832.3L252.8 826.0L253.9 822.9L254.9 819.3L256.0 816.5L257.0 818.8L258.1 821.1L259.1 824.4L260.3 825.1L261.5 827.5L262.4 824.3L263.4 822.8L264.3 820.9L265.3 816.7L266.2 814.9L267.1 814.3L268.1 816.5L269.0 815.9L270.0 816.0L270.9 816.5L271.8 816.4L272.7 817.6L273.6 818.5L274.5 818.2L275.4 818.6L276.3 818.3L277.2 819.6L278.3 819.9L279.3 817.6L280.4 818.0L281.5 823.5L282.7 829.0L283.6 829.4L284.5 827.8L285.4 828.7L286.4 828.9L287.3 828.0L288.2 827.5L289.0 828.6L289.8 827.7L290.6 828.9L291.4 828.9L292.2 830.8L293.0 830.6L294.1 834.1L295.3 838.5L296.1 839.7L296.9 842.0L297.7 843.0L298.5 844.5L299.3 844.8L300.2 843.1L301.2 841.7L302.1 840.6L303.1 838.5L304.0 837.0L304.9 838.1L305.9 839.9L306.8 841.0L307.8 843.0L308.7 844.8L309.6 844.0L310.5 842.1L311.4 839.7L312.3 837.6L313.2 835.5L314.1 833.2L315.0 832.2L316.2 834.9L317.4 838.5L318.3 838.8L319.2 838.7L320.1 837.5L321.1 838.1L322.0 837.8L322.9 837.0L323.8 838.5L324.7 839.6L325.6 840.9L326.5 841.2L327.4 843.0L328.3 843.2L329.2 844.8L330.1 845.7L331.1 847.2L332.0 848.0L333.0 848.1L333.9 849.5L334.9 855.9L336.0 860.8L337.0 866.0L338.1 860.7L339.1 854.0L340.2 849.5L341.2 851.4L342.3 852.7L343.3 855.0L344.2 853.3L345.2 850.8L346.1 849.5L347.1 847.1L348.0 844.8L348.8 845.1L349.6 844.0L350.4 844.3L351.2 844.2L352.0 844.1L352.8 843.2L353.8 839.8L354.9 837.6L355.9 833.8L356.7 832.1L357.5 829.0L358.4 830.7L359.4 832.5L360.3 833.8L361.3 834.2L362.2 835.4L363.3 834.9L364.3 833.7L365.4 833.8L366.4 836.0L367.4 837.8L368.3 838.4L369.3 840.0L370.3 839.2L371.2 838.1L372.2 837.0L373.2 835.4L374.1 834.1L375.0 834.6L375.9 833.5L376.8 833.0L377.7 831.8L378.6 831.5L379.5 830.6L379.8 832.0L380.7 832.0L381.6 831.1L382.5 830.7L383.4 829.7L384.3 829.7L385.2 830.8L386.1 832.3L387.0 833.3L388.2 832.7L389.4 831.5L390.2 828.1L391.0 826.2L391.8 823.0L392.8 823.3L393.9 822.1L394.9 823.0L395.9 820.5L396.9 817.7L397.9 815.8L398.7 813.3L399.5 811.9L400.3 811.0L401.5 799.0L402.4 804.0L403.3 809.8L404.2 809.2L405.1 809.8L406.0 806.5L406.9 804.4L407.9 804.9L408.9 807.1L409.9 808.6L410.7 810.2L411.5 812.4L412.3 814.0L413.2 815.7L414.1 817.0L415.3 827.8L416.2 829.4L417.1 832.0L418.3 826.0L419.2 827.1L420.1 826.6L421.3 823.2L422.5 821.8L423.7 823.4L424.9 825.4L425.7 825.2L426.5 825.6L427.3 826.0L428.3 824.2L429.4 824.7L430.4 823.0L431.3 822.0L432.2 820.6L433.1 821.0L434.0 820.0L435.2 816.5L436.4 814.6L437.2 813.5L438.0 811.9L438.8 811.0L439.7 808.2L440.6 805.0L441.8 795.4L443.0 771.3L444.2 778.5L445.4 802.6L446.3 800.5L447.2 796.6L448.2 799.2L449.2 800.4L450.2 802.6L451.1 797.2L452.0 790.5L452.9 791.4L453.8 791.7L454.7 786.0L455.6 780.9L456.5 773.6L457.4 767.7L458.3 769.7L459.2 771.3L460.1 773.8L461.0 776.1L462.2 784.5L463.0 785.4L463.8 785.4L464.6 784.5L465.6 782.3L466.5 779.7L467.4 783.6L468.3 788.1L469.5 805.6L470.4 800.7L471.3 794.2L472.1 796.2L473.0 800.2L473.9 803.0L474.8 807.4L475.8 807.5L476.8 807.6L477.8 807.4L479.0 803.1L480.2 800.2L481.1 797.2L482.0 793.6L482.9 796.5L483.8 797.8L484.7 797.0L485.6 796.6L486.5 801.3L487.4 806.2L488.2 804.9L489.1 804.2L489.9 803.8L490.9 805.7L491.9 805.6L492.9 806.8L493.7 807.7L494.5 807.6L495.3 806.8L496.5 808.2L497.7 809.2L498.7 808.9L499.7 810.6L500.7 809.8L501.5 809.6L502.3 809.2L503.1 809.2L504.3 805.8L505.5 803.2L506.4 806.6L507.3 808.0L508.3 808.2L509.3 808.0L510.3 808.6L511.1 809.4L511.9 809.4L512.7 811.0L513.6 812.7L514.5 814.0L515.7 812.4L516.9 811.0L518.1 799.0L519.3 794.9L520.5 791.7L521.7 790.5L522.9 773.7L523.8 768.0L524.8 761.1L526.0 774.9L526.6 794.2L527.8 783.3L528.6 782.4L529.4 779.1L530.2 778.5L531.4 788.1L532.3 787.0L533.2 785.7L534.4 785.8L535.6 786.9L536.8 790.2L538.0 791.7L539.2 793.5L540.4 794.2L541.6 812.2L542.8 805.6L543.6 806.1L544.4 807.1L545.2 808.6L546.2 808.1L547.2 810.0L548.2 809.2L549.2 809.8L550.2 811.4L551.2 812.2L552.2 809.9L553.2 808.1L554.2 805.6L555.4 807.3L556.6 808.6L557.6 810.3L558.7 810.2L559.7 812.2L560.7 812.5L561.7 811.4L562.7 811.6L563.6 811.1L564.5 810.1L565.4 809.4L566.3 809.2L567.2 808.5L568.2 809.6L569.2 810.4L570.2 811.5L571.3 808.6L572.4 806.3L573.3 803.4L574.2 799.6L575.1 801.8L576.0 802.7L576.9 805.6L577.8 804.2L578.8 803.7L579.7 803.7L580.6 801.9L581.6 804.1L582.5 804.9L583.5 806.3L584.6 803.5L585.7 802.6L586.6 803.4L587.4 803.0L588.3 803.5L589.2 804.0L590.0 804.1L590.9 804.1L592.0 797.4L593.1 790.7L594.2 787.8L595.4 783.3L596.3 775.7L597.3 768.5L598.3 793.7L599.8 807.8L600.9 801.3L602.0 795.2L603.1 796.7L604.3 796.7L605.4 793.8L606.5 792.2L607.5 788.8L608.4 786.9L609.4 783.3L610.5 786.1L611.7 790.7L612.8 788.4L613.9 784.8L615.0 780.7L616.1 775.9L617.2 772.1L618.3 768.5L619.5 777.0L620.6 786.3L621.7 782.4L622.8 777.4L624.3 805.6L625.7 811.5L626.9 807.9L628.0 802.6L629.0 797.9L629.9 794.6L630.9 790.7L631.9 792.8L632.9 794.7L633.9 796.7L634.8 794.9L635.8 793.0L636.7 792.4L637.6 790.7L638.6 786.9L639.6 781.0L640.6 777.4L641.7 765.8L642.8 755.2L643.9 761.0L645.0 765.6L646.0 751.6L647.0 736.8L648.0 721.9L649.4 749.3L650.5 734.3L651.7 721.1L653.1 708.5L654.6 730.0L656.1 749.3L657.6 737.4L658.7 748.9L659.8 759.6L660.0 753.7L660.9 757.1L661.8 759.5L662.7 761.3L663.6 763.3L664.6 774.4L665.7 788.1L666.7 799.4L667.9 778.4L669.1 758.5L669.9 762.8L670.8 767.4L671.6 770.5L672.5 765.3L673.5 758.6L674.4 753.7L675.4 740.5L676.3 728.9L677.3 715.2L678.1 719.3L678.9 725.0L679.7 729.4L680.5 734.4L681.4 729.5L682.3 726.2L683.2 720.9L684.1 717.6L685.0 725.0L685.8 733.7L686.7 741.3L687.5 749.4L688.4 758.5L689.2 773.1L690.1 787.4L691.3 777.0L692.5 765.7L693.7 768.9L694.9 770.5L695.8 761.3L696.7 753.5L697.6 744.9L698.5 736.8L699.4 739.4L700.3 741.6L701.2 745.0L702.1 746.5L703.3 749.8L704.5 753.7L705.7 739.6L706.9 727.2L707.7 737.8L708.5 747.0L709.3 758.1L710.1 768.1L711.0 748.9L711.8 729.6L712.6 729.6L713.4 728.1L714.2 727.2L715.4 711.8L716.6 695.9L717.5 685.8L718.3 676.7L719.0 602.0L719.9 620.2L720.7 638.1L721.7 619.6L722.6 602.0L723.5 632.6L724.5 662.2L725.4 676.7L726.2 691.1L727.4 734.4L728.6 713.2L729.8 693.5L730.8 719.5L731.7 746.5L732.7 755.1L733.6 764.6L734.6 773.0L735.8 777.2L737.0 782.6L737.9 794.5L738.8 805.8L739.7 816.0L740.6 828.3L741.4 822.6L742.2 815.4L743.0 809.5L743.9 804.4L744.7 797.7L745.5 792.2L746.7 802.6L747.9 811.5L748.9 806.6L750.0 801.5L751.0 797.0L752.0 804.8L752.9 810.5L753.9 818.7L755.0 821.9L756.0 823.9L757.0 825.0L757.9 827.8L758.7 831.8L759.6 836.2L760.4 839.1L761.3 840.6L762.1 842.3L763.2 840.2L764.2 839.2L765.2 832.8L766.2 828.0L767.0 826.6L767.9 823.6L768.7 820.9L769.8 824.1L770.8 826.0L772.3 820.9L773.2 822.9L774.0 826.6L774.9 829.1L775.9 830.3L776.9 832.1L777.7 833.9L778.6 836.5L779.4 839.2L780.3 840.1L781.1 840.3L782.0 841.3L782.8 841.1L783.7 840.6L784.5 841.3L785.5 845.0L786.6 847.4L787.4 848.4L788.3 849.3L789.1 849.4L790.0 849.6L790.8 850.8L791.7 850.4L792.5 848.1L793.4 845.9L794.2 843.3L795.1 842.8L795.9 842.4L796.8 841.3L797.8 839.0L798.8 837.2L800.3 829.1L801.3 824.7L802.4 821.9L803.4 822.0L804.4 824.0L805.9 833.1L807.0 835.6L808.0 839.2L808.8 836.9L809.7 837.3L810.5 835.2L811.3 833.8L812.2 833.0L813.0 831.1L814.0 827.7L815.1 826.3L816.1 824.0L817.6 831.1L818.7 831.4L819.7 830.1L820.5 829.3L821.4 827.9L822.2 827.0L823.2 827.3L824.3 826.9L825.3 828.0L826.3 826.8L827.3 826.3L828.3 826.5L829.1 826.5L829.9 826.9L830.8 828.2L831.6 827.0L832.4 828.0L833.2 827.2L834.0 827.0L834.9 826.4L835.7 826.4L836.5 826.5L837.3 826.1L838.1 826.7L838.9 825.9L839.7 827.7L840.5 827.0L841.5 827.8L842.6 829.1L844.1 836.2L845.6 846.4L846.7 848.8L847.7 849.4L848.5 851.5L849.4 853.1L850.2 854.5L851.4 855.5L852.5 856.7L853.3 855.1L854.1 850.9L855.0 849.5L855.8 846.7L856.6 846.8L857.5 848.1L858.3 848.3L859.1 847.9L860.0 846.0L860.9 845.2L861.7 845.0L862.5 845.1L863.4 846.6L864.2 847.3L865.0 849.2L865.8 849.0L866.7 850.1L867.5 848.9L868.3 848.8L869.2 849.1L870.0 849.2L870.8 848.5L871.6 849.2L872.5 849.0L873.3 848.3L874.1 845.6L875.0 843.6L875.9 842.4L876.7 840.0L877.5 839.8L878.4 838.1L879.2 836.7L880.0 836.6L880.9 837.7L881.7 835.7L882.5 836.7L883.3 835.0L884.1 835.6L885.0 834.0L885.8 833.3L886.6 831.9L887.5 832.4L888.3 832.8L889.2 831.3L890.0 830.8L890.8 828.0L891.7 825.0L892.5 823.3L893.3 815.0L894.1 810.8L895.0 808.3L895.8 809.4L896.7 808.9L897.5 809.2L898.3 807.6L899.2 803.3L900.0 801.7L900.8 802.9L901.7 804.1L902.5 806.7L903.3 802.6L904.2 798.0L905.0 795.0L905.9 788.7L906.7 783.3L907.5 770.0L908.4 762.3L909.2 755.0L910.8 765.0L911.6 756.3L912.5 748.3L913.3 750.2L914.2 753.0L915.0 756.7L915.8 762.6L916.7 766.1L917.5 771.7L918.3 765.6L919.2 759.2L920.0 753.3L920.9 746.7L921.7 740.0L923.3 702.5L924.7 723.3L925.8 745.0L926.9 735.0L928.0 726.7L929.0 737.1L930.0 748.3L930.9 758.4L931.7 770.0L933.3 761.7L934.1 771.3L935.0 780.8L935.8 776.0L936.6 769.7L937.5 764.6L938.3 758.3L939.1 763.9L940.0 769.6L940.8 776.7L941.6 780.1L942.5 783.3L943.3 784.4L944.2 785.7L945.0 786.7L946.5 797.7L947.3 793.4L948.1 789.5L949.1 792.3L950.1 794.6L951.1 796.1L952.1 796.7L953.0 798.9L953.8 799.0L954.7 800.7L955.7 804.8L956.7 821.1L957.7 821.0L958.7 821.1L959.8 821.3L960.8 820.1L961.8 821.6L962.8 824.2L963.8 824.9L964.9 827.2L966.4 832.3L967.9 814.0L968.8 814.6L969.6 815.2L970.5 817.0L971.5 819.1L972.5 820.1L973.5 823.3L974.5 825.2L975.3 827.9L976.1 831.3L977.6 839.4L978.6 835.6L979.6 833.3L980.7 834.5L981.7 837.4L982.7 836.4L983.7 836.4L984.7 838.6L985.7 842.5L986.8 839.3L987.8 836.4L988.6 836.9L989.5 836.6L990.3 837.4L991.8 839.4L992.8 834.0L993.9 830.3L994.9 826.6L995.9 822.1L997.0 820.7L998.0 821.1L999.0 822.0L1000.0 824.2L1001.5 817.0L1003.0 813.0L1004.0 811.5L1005.1 810.9L1006.1 808.6L1007.1 806.8L1008.2 808.0L1009.2 810.9L1010.2 810.7L1011.2 810.9L1012.7 818.0L1013.8 817.1L1014.8 817.0L1016.3 823.1L1017.3 854.7L1018.3 849.6L1019.3 843.5L1020.3 842.1L1021.4 840.4L1022.4 841.7L1023.4 841.5L1024.4 837.7L1025.4 833.3L1026.5 830.8L1027.5 827.2L1028.5 828.9L1029.5 830.3L1030.5 829.1L1031.6 828.2L1032.6 823.8L1033.6 818.4L1034.6 813.0L1035.6 809.8L1036.6 804.8L1037.7 800.7L1039.2 808.9L1040.7 804.8L1041.6 807.6L1042.4 809.8L1043.3 811.7L1044.2 808.3L1045.0 806.5L1045.8 802.7L1046.7 800.0L1047.5 800.9L1048.3 802.5L1049.2 804.4L1050.0 806.7L1050.8 806.4L1051.7 807.4L1052.5 806.8L1053.4 806.5L1054.2 807.5L1055.0 809.4L1055.9 810.4L1056.7 811.7L1057.5 810.8L1058.3 810.8L1059.2 811.0L1060.0 811.4L1060.8 811.7L1061.7 812.8L1062.5 813.4L1063.3 813.1L1064.2 813.3L1065.0 807.8L1065.9 803.2L1066.7 798.3L1067.5 796.1L1068.4 794.1L1069.2 792.5L1070.0 791.8L1070.9 793.2L1071.7 793.3L1072.5 793.1L1073.4 792.1L1074.2 790.8L1075.0 791.4L1075.9 793.7L1076.7 795.0L1077.5 794.9L1078.4 796.6L1079.2 796.7L1080.8 810.0L1081.7 808.6L1082.5 808.4L1083.3 806.8L1084.2 805.0L1085.0 805.7L1085.8 807.5L1086.7 810.2L1087.5 810.8L1088.3 809.9L1089.2 809.0L1090.0 808.2L1090.8 807.5L1091.6 807.9L1092.5 808.1L1093.3 807.1L1094.2 807.8L1095.0 806.7L1095.8 803.6L1096.7 799.2L1097.5 796.7L1098.3 796.1L1099.2 794.0L1100.0 792.1L1100.8 791.7L1101.6 788.8L1102.5 783.0L1103.3 780.0L1104.2 779.7L1105.0 779.1L1105.8 779.5L1106.7 778.3L1107.5 773.7L1108.4 768.9L1109.2 765.0L1110.0 764.0L1110.9 763.3L1111.7 763.3L1113.3 773.3L1114.1 775.4L1115.0 776.9L1115.8 779.2L1116.6 771.1L1117.5 761.4L1118.3 753.3L1119.1 752.5L1120.0 751.7L1120.8 751.7L1121.6 743.2L1122.5 733.4L1123.3 723.3L1124.2 719.0L1125.0 713.3L1126.3 675.8L1127.2 688.1L1128.0 700.0L1129.0 709.0L1130.0 718.3L1130.8 731.8L1131.7 746.7L1133.3 756.7L1134.2 752.5L1135.0 747.0L1136.0 725.7L1136.9 704.4L1137.8 701.6L1138.7 700.1L1139.6 698.9L1140.5 692.8L1141.5 688.8L1142.4 683.1L1143.3 711.9L1144.2 725.7L1145.2 737.8L1146.1 731.6L1147.0 726.7L1147.8 720.2L1148.6 712.1L1149.4 705.4L1150.6 716.4L1151.7 726.7L1152.6 738.5L1153.5 748.9L1154.6 744.5L1155.7 739.6L1156.5 743.9L1157.4 746.8L1158.2 749.7L1159.1 754.4L1160.0 749.8L1160.9 745.2L1161.8 753.7L1162.8 761.9L1163.7 773.3L1164.6 785.9L1165.5 781.4L1166.5 776.9L1167.4 773.0L1168.3 775.1L1169.3 778.8L1170.2 782.2L1171.1 790.3L1172.0 798.9L1172.9 806.9L1173.9 815.4L1174.8 823.0L1175.7 824.0L1176.7 826.4L1177.6 826.7L1178.5 827.0L1179.5 826.9L1180.4 825.7L1181.3 825.2L1182.2 824.2L1183.1 823.0L1184.0 829.5L1185.0 835.9L1185.9 837.0L1186.8 836.6L1187.8 837.5L1188.7 837.8L1189.6 837.7L1190.6 836.9L1191.5 835.9L1192.4 835.9L1193.3 837.5L1194.3 840.0L1195.2 843.3L1196.1 839.3L1197.1 836.1L1198.0 832.2L1198.9 829.7L1199.8 826.5L1200.7 823.0L1201.6 820.8L1202.6 820.2L1203.5 817.0L1204.4 815.6L1205.3 815.6L1206.2 813.8L1207.2 814.7L1208.1 813.7L1209.0 813.6L1210.0 813.7L1211.0 813.1L1211.9 811.9L1212.8 810.4L1213.7 808.1L1214.6 812.5L1215.6 816.0L1216.5 819.3L1217.4 822.0L1218.4 823.7L1219.3 826.7L1220.4 826.5L1221.5 826.2L1223.1 810.9L1224.1 807.1L1225.1 801.8L1225.9 797.9L1226.8 795.9L1227.6 791.6L1228.4 787.1L1229.2 782.4L1230.7 790.5L1231.7 796.7L1232.7 793.4L1233.7 790.5L1234.8 784.5L1235.8 780.4L1237.3 786.5L1238.8 795.6L1239.6 796.9L1240.4 798.7L1241.4 801.6L1242.4 805.8L1243.4 804.1L1244.4 801.8L1246.0 813.0L1247.0 815.8L1248.0 817.0L1249.0 819.4L1250.0 820.1L1250.9 818.3L1251.7 815.8L1252.6 814.0L1253.4 815.6L1254.3 819.1L1255.1 821.1L1256.0 823.6L1256.8 826.3L1257.7 828.2L1258.7 828.4L1259.7 829.2L1260.8 830.5L1261.8 830.3L1263.3 841.5L1264.3 838.9L1265.3 837.4L1266.3 837.5L1267.4 838.4L1268.4 832.8L1269.4 828.2L1270.4 828.4L1271.4 828.2L1272.5 834.6L1273.5 839.4L1274.5 836.7L1275.5 835.4L1276.5 832.1L1277.5 828.2L1279.1 833.3L1280.1 834.9L1281.1 835.4L1281.9 833.1L1282.8 831.1L1283.6 830.3L1284.7 826.8L1285.7 823.1L1286.5 823.1L1287.4 822.5L1288.2 821.1L1289.2 824.6L1290.3 827.2L1291.3 829.6L1292.3 832.3L1293.1 831.8L1294.0 831.7L1294.8 831.3L1295.7 832.4L1296.5 831.6L1297.4 832.3" stroke="#2410d8" stroke-width="2.45"/>
<line x1="111" y1="835" x2="1298" y2="835" stroke="#14c83a" stroke-width="2.4"/>
</g>
<path d="M839 293.5H1297" stroke="#ff7214" stroke-width="2" stroke-dasharray="4.5 5" fill="none"/>
<path d="M1116.5 505.5H1296.5" stroke="#14b46e" stroke-width="2" stroke-dasharray="4.8 4.8" fill="none"/>
<path d="M1296.5 312V505" stroke="#14b46e" stroke-width="1.7" stroke-dasharray="6.3 6.4" fill="none"/>
<path d="M1088 635.2H1294" stroke="#fb1460" stroke-width="2" stroke-dasharray="5 4.7" fill="none"/>
<path d="M1294 644V820" stroke="#fb1460" stroke-width="1.7" stroke-dasharray="6.3 6.7" fill="none"/>
<ellipse cx="241.2" cy="840.1" rx="26.2" ry="18.9" fill="rgba(100,150,240,0.25)" stroke="#2a5ee8" stroke-width="2" stroke-dasharray="5 4"/>
<ellipse cx="324.7" cy="846.0" rx="30.5" ry="18.7" fill="rgba(240,100,140,0.25)" stroke="#f0104a" stroke-width="2" stroke-dasharray="5 4"/>
<ellipse cx="778.9" cy="840.2" rx="26.0" ry="18.9" fill="rgba(100,150,240,0.25)" stroke="#2a5ee8" stroke-width="2" stroke-dasharray="5 4"/>
<ellipse cx="863.9" cy="846.3" rx="23.9" ry="18.7" fill="rgba(240,100,140,0.25)" stroke="#f0104a" stroke-width="2" stroke-dasharray="5 4"/>
<ellipse cx="984.3" cy="837.2" rx="14.3" ry="19.0" fill="rgba(100,150,240,0.25)" stroke="#2a5ee8" stroke-width="2" stroke-dasharray="5 4"/>
<ellipse cx="1017.3" cy="842.4" rx="14.3" ry="18.9" fill="rgba(240,100,140,0.25)" stroke="#f0104a" stroke-width="2" stroke-dasharray="5 4"/>
<ellipse cx="1186.5" cy="837.2" rx="14.2" ry="19.0" fill="rgba(100,150,240,0.25)" stroke="#2a5ee8" stroke-width="2" stroke-dasharray="5 4"/>
<ellipse cx="1278.9" cy="837.2" rx="18.3" ry="19.0" fill="rgba(240,100,140,0.25)" stroke="#f0104a" stroke-width="2" stroke-dasharray="5 4"/>
<text transform="translate(832.51 246.00) scale(0.8030 1)" font-size="32.12" fill="#ff7214" font-weight="bold" stroke="#ff7214" stroke-width="0.25" style="font-kerning:none">200DMA</text>
<rect x="832" y="252.3" width="103" height="2.2" fill="#ff7214"/>
<text transform="translate(837.87 284.00) scale(0.7821 1)" font-size="32.41" fill="#ff7214" font-weight="bold" stroke="#ff7214" stroke-width="0.25" style="font-kerning:none">$47,275</text>
<text transform="translate(1115.09 458.20) scale(0.7903 1)" font-size="32.41" fill="#12b06c" font-weight="bold" stroke="#12b06c" stroke-width="0.25" style="font-kerning:none">0.8 × 200DMA</text>
<rect x="1114.5" y="464.2" width="167" height="2.2" fill="#12b06c"/>
<text transform="translate(1151.56 495.70) scale(0.7963 1)" font-size="32.41" fill="#12b06c" font-weight="bold" stroke="#12b06c" stroke-width="0.25" style="font-kerning:none">$37,820</text>
<text transform="translate(1057.17 589.00) scale(0.7469 1)" font-size="32.70" fill="#fb1460" font-weight="bold" stroke="#fb1460" stroke-width="0.25" style="font-kerning:none">Mayer Multiple</text>
<rect x="1057.8" y="594.8" width="169.6" height="2.2" fill="#fb1460"/>
<text transform="translate(1110.72 626.50) scale(0.7785 1)" font-size="31.83" fill="#fb1460" font-weight="bold" stroke="#fb1460" stroke-width="0.25" style="font-kerning:none">0.814</text>
<text transform="translate(238.11 773.60) scale(0.8045 1)" font-size="31.98" fill="#111111" font-weight="bold" stroke="#111111" stroke-width="0.25" style="font-kerning:none">2014-15</text>
<rect x="238.0" y="780.3" width="94.8" height="2.3" fill="#111111"/>
<text transform="translate(786.71 773.60) scale(0.8053 1)" font-size="31.98" fill="#111111" font-weight="bold" stroke="#111111" stroke-width="0.25" style="font-kerning:none">2018</text>
<rect x="786.6" y="780.3" width="57.6" height="2.3" fill="#111111"/>
<text transform="translate(959.17 773.60) scale(0.8387 1)" font-size="31.98" fill="#111111" font-weight="bold" stroke="#111111" stroke-width="0.25" style="font-kerning:none">2019-20</text>
<rect x="959.1" y="780.3" width="98.4" height="2.3" fill="#111111"/>
<text transform="translate(1182.10 773.60) scale(0.8159 1)" font-size="31.98" fill="#111111" font-weight="bold" stroke="#111111" stroke-width="0.25" style="font-kerning:none">2021-22</text>
<rect x="1182.0" y="780.3" width="95.8" height="2.3" fill="#111111"/>
<text transform="translate(228.54 890.00) scale(0.8043 1)" font-size="33.29" fill="#1450f0" font-weight="bold" stroke="#1450f0" stroke-width="0.25" style="font-kerning:none">#</text>
<text transform="translate(244.00 890.00) scale(0.4778 1)" font-size="33.29" fill="#1450f0" font-weight="bold" stroke="#1450f0" stroke-width="0.25" style="font-kerning:none">1</text>
<text transform="translate(311.14 895.20) scale(0.8259 1)" font-size="32.41" fill="#fb1460" font-weight="bold" stroke="#fb1460" stroke-width="0.25" style="font-kerning:none">#</text>
<text transform="translate(326.72 895.20) scale(0.7818 1)" font-size="32.41" fill="#fb1460" font-weight="bold" stroke="#fb1460" stroke-width="0.25" style="font-kerning:none">2</text>
<text transform="translate(766.54 890.00) scale(0.8078 1)" font-size="33.14" fill="#1450f0" font-weight="bold" stroke="#1450f0" stroke-width="0.25" style="font-kerning:none">#</text>
<text transform="translate(782.00 890.00) scale(0.4799 1)" font-size="33.14" fill="#1450f0" font-weight="bold" stroke="#1450f0" stroke-width="0.25" style="font-kerning:none">1</text>
<text transform="translate(849.14 895.20) scale(0.8259 1)" font-size="32.41" fill="#fb1460" font-weight="bold" stroke="#fb1460" stroke-width="0.25" style="font-kerning:none">#</text>
<text transform="translate(864.72 895.20) scale(0.7818 1)" font-size="32.41" fill="#fb1460" font-weight="bold" stroke="#fb1460" stroke-width="0.25" style="font-kerning:none">2</text>
<text transform="translate(971.24 886.50) scale(0.8297 1)" font-size="32.27" fill="#1450f0" font-weight="bold" stroke="#1450f0" stroke-width="0.25" style="font-kerning:none">#</text>
<text transform="translate(986.70 886.50) scale(0.4928 1)" font-size="32.27" fill="#1450f0" font-weight="bold" stroke="#1450f0" stroke-width="0.25" style="font-kerning:none">1</text>
<text transform="translate(1006.64 891.70) scale(0.8410 1)" font-size="31.83" fill="#fb1460" font-weight="bold" stroke="#fb1460" stroke-width="0.25" style="font-kerning:none">#</text>
<text transform="translate(1022.22 891.70) scale(0.7961 1)" font-size="31.83" fill="#fb1460" font-weight="bold" stroke="#fb1460" stroke-width="0.25" style="font-kerning:none">2</text>
<text transform="translate(1166.74 886.50) scale(0.8297 1)" font-size="32.27" fill="#1450f0" font-weight="bold" stroke="#1450f0" stroke-width="0.25" style="font-kerning:none">#</text>
<text transform="translate(1182.20 886.50) scale(0.4928 1)" font-size="32.27" fill="#1450f0" font-weight="bold" stroke="#1450f0" stroke-width="0.25" style="font-kerning:none">1</text>
<text transform="translate(1192.23 886.50) scale(0.6536 1)" font-size="32.27" fill="#1450f0" font-weight="bold" stroke="#1450f0" stroke-width="0.25" style="font-kerning:none">?</text>
<text transform="translate(1257.64 886.50) scale(0.8297 1)" font-size="32.27" fill="#fb1460" font-weight="bold" stroke="#fb1460" stroke-width="0.25" style="font-kerning:none">#</text>
<text transform="translate(1273.22 886.50) scale(0.7853 1)" font-size="32.27" fill="#fb1460" font-weight="bold" stroke="#fb1460" stroke-width="0.25" style="font-kerning:none">2</text>
<text transform="translate(1287.53 886.50) scale(0.6536 1)" font-size="32.27" fill="#fb1460" font-weight="bold" stroke="#fb1460" stroke-width="0.25" style="font-kerning:none">?</text>
<text transform="translate(31.59 1029.60) scale(0.7459 1)" font-size="18.60" fill="#8a8a8a" style="font-kerning:none">© 2022 Glassnode. All Rights Reserved.</text>
<use href="#gn" style="color:#111111" transform="translate(1118.9 873.6) scale(0.2775)"/>
</svg>
</body></html>
